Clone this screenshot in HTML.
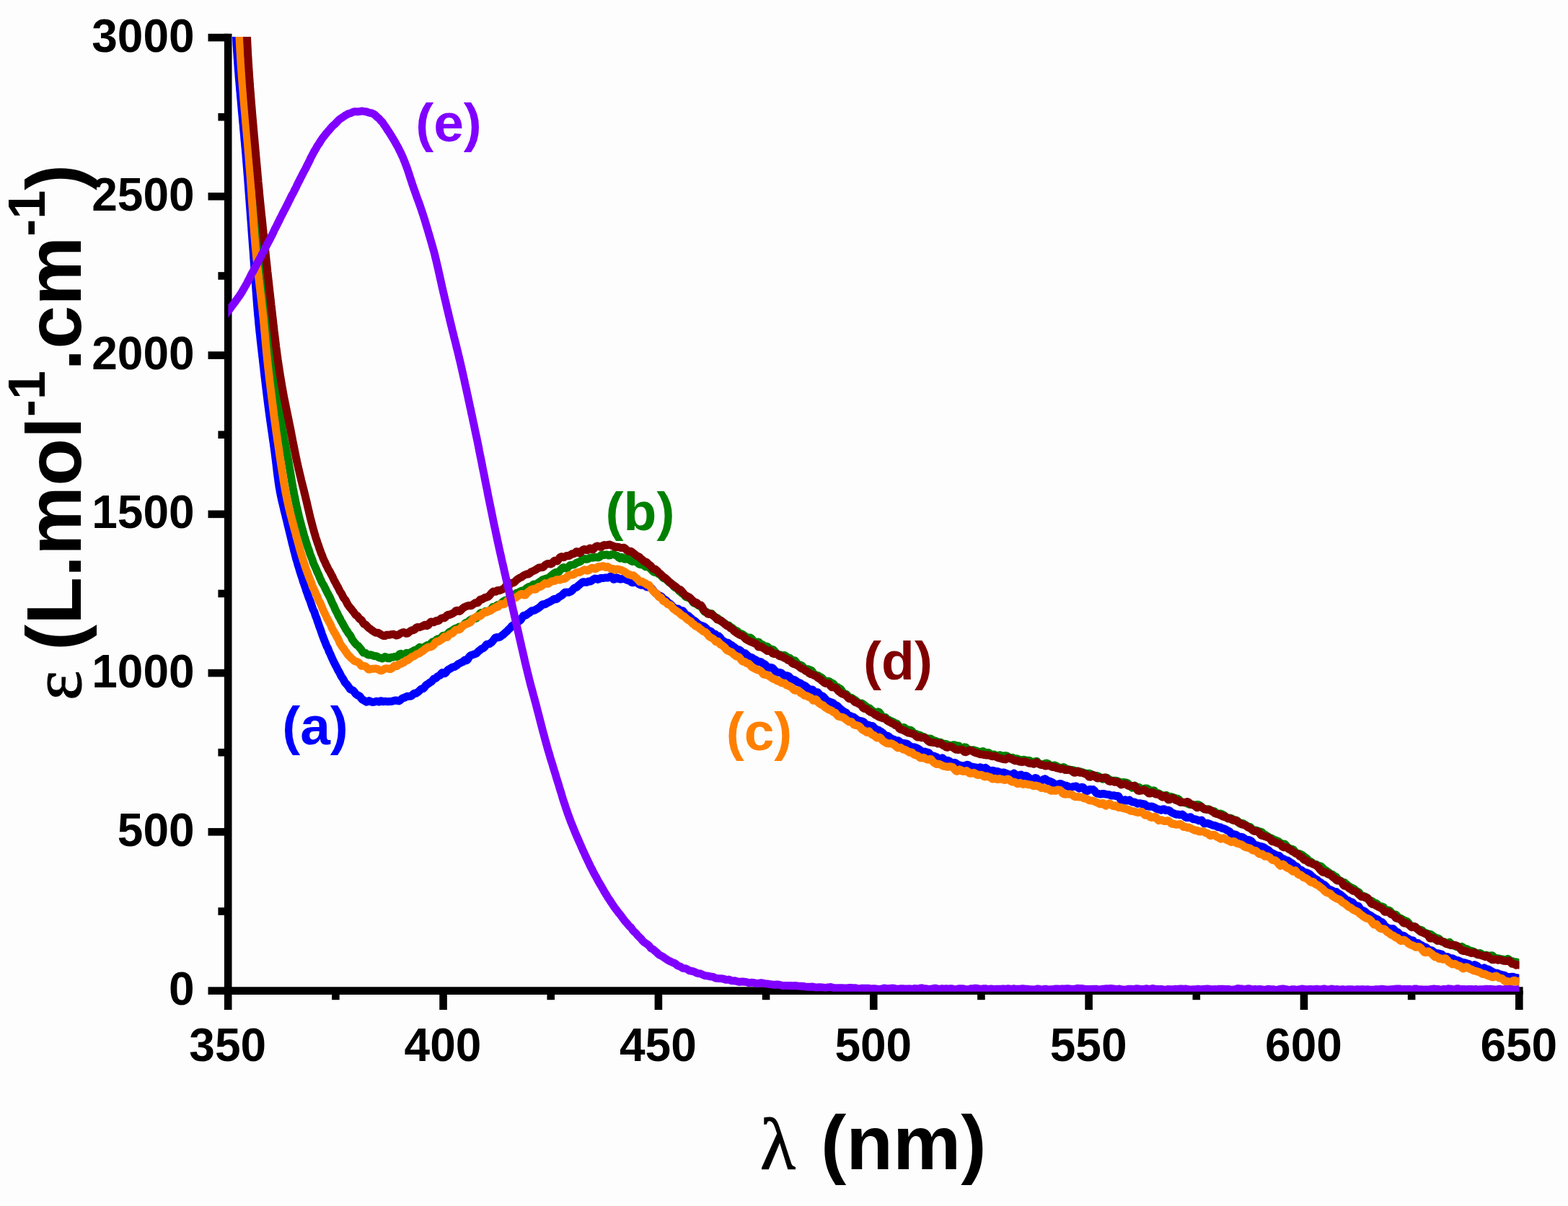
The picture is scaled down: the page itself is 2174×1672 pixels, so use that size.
<!DOCTYPE html>
<html lang="en"><head><meta charset="utf-8"><title>UV-vis absorption spectra</title>
<style>
html,body{margin:0;padding:0;background:#fdfdfd;}
body{width:2174px;height:1672px;overflow:hidden;}
svg{display:block;filter:blur(0.6px);}
text{font-family:"Liberation Sans",Arial,Helvetica,sans-serif;font-weight:bold;fill:#000;}
.tk{font-size:64px;}
.lb{font-size:75px;}
.gr{font-family:"Liberation Serif","DejaVu Serif",serif;font-weight:normal;stroke:#000;stroke-width:1.2px;}
.c{fill:none;stroke-linejoin:round;stroke-linecap:butt;}
</style></head><body>
<svg width="2174" height="1672" viewBox="0 0 2174 1672" role="img" aria-label="Molar absorption coefficient versus wavelength for samples a to e">
<rect width="2174" height="1672" fill="#fdfdfd"/>
<defs><clipPath id="plot"><rect x="316.4" y="51.0" width="1790.0" height="1323.8"/></clipPath></defs>

<g stroke="#000" stroke-width="10.6" fill="none" stroke-linecap="butt">
<path d="M316.2,46.800000000000004 V1378.8999999999999"/>
<path d="M310.9,1373.6 H2111.6000000000004"/>
<path d="M288.5,1373.60 H316.2"/>
<path d="M302.4,1263.47 H316.2"/>
<path d="M288.5,1153.35 H316.2"/>
<path d="M302.4,1043.22 H316.2"/>
<path d="M288.5,933.10 H316.2"/>
<path d="M302.4,822.97 H316.2"/>
<path d="M288.5,712.85 H316.2"/>
<path d="M302.4,602.72 H316.2"/>
<path d="M288.5,492.60 H316.2"/>
<path d="M302.4,382.47 H316.2"/>
<path d="M288.5,272.35 H316.2"/>
<path d="M302.4,162.22 H316.2"/>
<path d="M288.5,52.10 H316.2"/>
<path d="M316.20,1373.6 V1400.0"/>
<path d="M465.38,1373.6 V1386.2"/>
<path d="M614.55,1373.6 V1400.0"/>
<path d="M763.72,1373.6 V1386.2"/>
<path d="M912.90,1373.6 V1400.0"/>
<path d="M1062.08,1373.6 V1386.2"/>
<path d="M1211.25,1373.6 V1400.0"/>
<path d="M1360.42,1373.6 V1386.2"/>
<path d="M1509.60,1373.6 V1400.0"/>
<path d="M1658.78,1373.6 V1386.2"/>
<path d="M1807.95,1373.6 V1400.0"/>
<path d="M1957.13,1373.6 V1386.2"/>
<path d="M2106.30,1373.6 V1400.0"/>
</g>
<g class="tk">
<text x="269.6" y="1393.2" text-anchor="end">0</text>
<text x="269.6" y="1172.9" text-anchor="end">500</text>
<text x="269.6" y="952.7" text-anchor="end">1000</text>
<text x="269.6" y="732.4" text-anchor="end">1500</text>
<text x="269.6" y="512.2" text-anchor="end">2000</text>
<text x="269.6" y="291.9" text-anchor="end">2500</text>
<text x="269.6" y="71.7" text-anchor="end">3000</text>
<text x="315.7" y="1470.5" text-anchor="middle">350</text>
<text x="614.0" y="1470.5" text-anchor="middle">400</text>
<text x="912.4" y="1470.5" text-anchor="middle">450</text>
<text x="1210.8" y="1470.5" text-anchor="middle">500</text>
<text x="1509.1" y="1470.5" text-anchor="middle">550</text>
<text x="1807.5" y="1470.5" text-anchor="middle">600</text>
<text x="2105.8" y="1470.5" text-anchor="middle">650</text>
</g>
<g clip-path="url(#plot)">
<polyline class="c" stroke="#0000ff" stroke-width="11.0" points="326.5,30.0 326.6,32.0 326.7,34.0 326.7,36.0 326.8,38.0 326.9,40.0 327.0,42.0 327.1,44.0 327.2,46.0 327.3,48.0 327.4,50.0 327.5,52.0 327.6,54.0 327.7,56.0 327.8,58.0 327.9,60.0 328.0,61.9 328.1,63.9 328.3,66.0 328.4,68.0 328.5,69.9 328.6,72.0 328.8,74.0 328.9,76.0 329.0,77.9 329.2,79.9 329.3,81.9 329.5,83.9 329.6,85.9 329.7,87.9 329.9,89.9 330.0,91.9 330.2,93.9 330.3,95.8 330.5,97.9 330.7,99.8 330.8,101.8 331.0,103.9 331.1,105.9 331.3,107.9 331.5,109.8 331.6,111.8 331.8,113.8 332.0,115.8 332.1,117.8 332.3,119.8 332.5,121.8 332.6,123.8 332.8,125.8 333.0,127.8 333.2,129.8 333.3,131.7 333.5,133.7 333.7,135.7 333.9,137.7 334.1,139.8 334.2,141.8 334.4,143.8 334.6,145.7 334.8,147.7 335.0,149.7 335.1,151.7 335.3,153.7 335.5,155.7 335.7,157.7 335.9,159.7 336.1,161.7 336.3,163.7 336.4,165.7 336.6,167.6 336.8,169.6 337.0,171.6 337.2,173.6 337.4,175.6 337.5,177.6 337.7,179.5 337.9,181.6 338.1,183.6 338.3,185.6 338.5,187.6 338.7,189.5 338.8,191.5 339.0,193.5 339.2,195.5 339.4,197.5 339.6,199.5 339.7,201.5 339.9,203.5 340.1,205.5 340.3,207.5 340.4,209.5 340.6,211.5 340.8,213.4 341.0,215.4 341.1,217.5 341.3,219.4 341.5,221.4 341.6,223.4 341.8,225.4 342.0,227.4 342.1,229.4 342.3,231.4 342.5,233.4 342.6,235.4 342.8,237.4 342.9,239.4 343.1,241.4 343.3,243.4 343.4,245.3 343.6,247.3 343.7,249.3 343.9,251.3 344.0,253.4 344.2,255.3 344.3,257.3 344.5,259.3 344.6,261.3 344.8,263.3 344.9,265.3 345.1,267.3 345.2,269.3 345.4,271.3 345.5,273.3 345.7,275.3 345.8,277.3 346.0,279.3 346.1,281.3 346.3,283.3 346.4,285.2 346.6,287.3 346.7,289.2 346.9,291.2 347.0,293.2 347.2,295.2 347.3,297.2 347.5,299.2 347.6,301.2 347.8,303.2 347.9,305.2 348.1,307.2 348.2,309.2 348.4,311.2 348.5,313.2 348.7,315.2 348.8,317.2 348.9,319.2 349.1,321.2 349.2,323.2 349.4,325.2 349.5,327.2 349.7,329.1 349.8,331.1 350.0,333.1 350.1,335.2 350.3,337.2 350.4,339.1 350.6,341.1 350.7,343.1 350.9,345.1 351.0,347.1 351.2,349.1 351.3,351.1 351.5,353.1 351.6,355.1 351.7,357.1 351.9,359.1 352.0,361.1 352.2,363.1 352.3,365.1 352.5,367.0 352.6,369.0 352.7,371.1 352.9,373.1 353.0,375.1 353.1,377.0 353.3,379.0 353.4,381.0 353.6,383.0 353.7,385.0 353.9,387.0 354.0,389.0 354.1,391.0 354.3,393.0 354.4,395.0 354.6,397.0 354.7,399.0 354.9,401.0 355.0,403.0 355.2,405.0 355.3,407.0 355.5,409.0 355.6,411.0 355.8,413.0 355.9,415.0 356.1,416.9 356.2,418.9 356.4,420.9 356.5,422.9 356.7,424.9 356.9,426.9 357.0,428.9 357.2,430.9 357.4,432.9 357.5,434.9 357.7,436.8 357.9,438.8 358.1,440.8 358.3,442.8 358.5,444.8 358.6,446.9 358.8,448.8 359.0,450.8 359.2,452.8 359.4,454.8 359.6,456.7 359.8,458.8 360.0,460.8 360.3,462.8 360.5,464.8 360.7,466.8 360.9,468.8 361.1,470.8 361.3,472.7 361.6,474.7 361.8,476.7 362.0,478.7 362.2,480.7 362.5,482.6 362.7,484.6 362.9,486.6 363.2,488.6 363.4,490.6 363.6,492.6 363.8,494.6 364.1,496.5 364.3,498.5 364.5,500.4 364.7,502.4 365.0,504.4 365.2,506.5 365.4,508.5 365.7,510.4 365.9,512.4 366.1,514.4 366.3,516.4 366.6,518.4 366.8,520.4 367.0,522.4 367.3,524.4 367.5,526.3 367.7,528.3 368.0,530.3 368.2,532.2 368.4,534.3 368.7,536.3 368.9,538.3 369.2,540.3 369.4,542.3 369.6,544.2 369.9,546.2 370.1,548.2 370.4,550.1 370.6,552.2 370.9,554.2 371.1,556.2 371.4,558.2 371.6,560.1 371.9,562.1 372.1,564.1 372.4,566.0 372.7,568.1 372.9,570.1 373.2,572.1 373.5,574.0 373.7,575.9 374.0,577.9 374.3,579.9 374.5,581.9 374.8,583.9 375.1,585.9 375.4,587.8 375.7,589.8 375.9,591.8 376.2,593.8 376.5,595.8 376.8,597.8 377.1,599.7 377.4,601.7 377.7,603.6 377.9,605.6 378.2,607.6 378.5,609.6 378.8,611.6 379.1,613.6 379.4,615.5 379.6,617.6 379.9,619.6 380.2,621.5 380.4,623.5 380.7,625.5 381.0,627.5 381.2,629.4 381.5,631.4 381.7,633.4 382.0,635.4 382.2,637.5 382.5,639.4 382.7,641.4 383.0,643.4 383.2,645.4 383.4,647.4 383.7,649.4 383.9,651.4 384.1,653.4 384.4,655.4 384.6,657.4 384.9,659.3 385.1,661.2 385.4,663.2 385.7,665.2 385.9,667.1 386.2,669.1 386.5,671.1 386.8,673.1 387.1,675.1 387.5,677.1 387.8,679.0 388.1,681.0 388.5,683.0 388.9,685.0 389.3,687.0 389.7,688.9 390.1,690.7 390.5,692.7 391.0,694.8 391.4,696.5 391.9,698.2 392.3,700.1 392.8,702.0 393.3,704.0 393.7,706.3 394.2,708.4 394.7,710.3 395.2,712.2 395.7,714.2 396.2,716.1 396.6,718.0 397.1,720.0 397.6,721.9 398.1,723.8 398.6,725.9 399.0,727.9 399.5,729.8 400.0,731.7 400.4,733.5 400.9,735.5 401.4,737.5 401.8,739.4 402.3,741.3 402.8,743.2 403.2,745.2 403.7,747.2 404.2,749.0 404.6,751.0 405.1,753.1 405.6,755.1 406.1,756.9 406.6,758.6 407.1,760.7 407.5,762.8 408.0,764.7 408.6,766.6 409.1,768.6 409.6,770.6 410.1,772.7 410.6,774.7 411.2,776.5 411.7,778.1 412.3,779.9 412.8,782.1 413.4,784.1 414.0,785.8 414.5,787.5 415.1,789.6 415.7,791.7 416.3,793.5 416.9,795.4 417.5,797.2 418.1,799.0 418.8,800.9 419.4,802.9 420.0,805.1 420.6,807.0 421.3,808.7 421.9,810.6 422.6,812.4 423.2,814.3 423.9,816.3 424.5,818.5 425.2,820.4 425.8,821.9 426.5,823.8 427.2,825.9 427.9,827.9 428.5,829.6 429.2,831.2 429.9,832.8 430.6,834.8 431.3,837.1 432.0,839.1 432.7,841.0 433.4,843.2 434.1,845.0 434.8,846.3 435.5,847.6 436.2,849.5 436.9,851.8 437.6,854.1 438.3,855.7 439.0,857.3 439.7,859.4 440.3,861.7 441.0,863.3 441.7,865.2 442.3,867.4 443.0,869.1 443.6,870.8 444.3,872.8 445.0,874.6 445.6,876.5 446.3,878.7 447.0,880.7 447.7,882.4 448.4,884.2 449.1,886.1 449.8,887.9 450.6,889.8 451.3,891.8 452.1,893.8 452.9,895.7 453.6,897.1 454.4,898.4 455.2,900.4 456.0,902.7 456.8,904.5 457.7,906.1 458.5,908.0 459.3,909.9 460.2,911.9 461.0,913.7 461.8,915.5 462.7,917.4 463.6,919.1 464.4,920.8 465.3,922.6 466.2,924.1 467.1,925.8 468.0,927.9 468.9,929.5 469.9,931.1 470.8,932.8 471.8,934.7 472.8,936.9 473.8,938.7 474.9,940.1 476.0,941.8 477.1,943.9 478.2,946.1 479.4,947.4 480.5,948.5 481.7,950.2 483.0,951.7 484.2,953.5 485.6,955.5 486.9,956.3 488.3,956.7 489.7,957.4 491.2,959.1 492.7,961.3 494.2,962.8 495.8,963.9 497.4,964.4 499.1,965.7 500.8,968.2 502.6,970.0 504.3,970.8 506.2,972.0 508.0,973.2 509.9,972.7 511.8,971.6 513.7,972.3 515.7,973.3 517.7,973.4 519.6,973.1 521.6,972.2 523.6,972.7 525.6,973.1 527.6,971.8 529.6,972.0 531.6,972.7 533.6,972.3 535.6,972.6 537.6,972.7 539.6,972.5 541.6,972.6 543.5,972.3 545.5,971.7 547.5,971.2 549.4,970.9 551.4,971.6 553.3,971.9 555.2,970.5 557.1,968.7 559.0,967.6 560.9,967.3 562.7,966.2 564.5,965.3 566.4,965.4 568.2,965.2 569.9,965.0 571.7,963.9 573.4,961.8 575.2,961.1 576.9,961.3 578.6,960.1 580.3,958.8 581.9,957.3 583.6,955.5 585.2,954.8 586.9,954.7 588.5,953.1 590.1,950.5 591.8,949.1 593.4,948.3 595.1,946.9 596.7,945.8 598.3,945.0 600.0,943.0 601.6,941.2 603.3,940.8 605.0,939.8 606.6,937.9 608.3,937.0 610.0,936.3 611.6,934.0 613.3,932.6 615.0,933.2 616.6,933.8 618.3,932.4 620.0,929.9 621.7,928.2 623.4,927.4 625.0,926.7 626.7,925.2 628.4,924.7 630.1,924.5 631.8,923.5 633.5,922.4 635.2,920.7 636.9,919.8 638.5,919.2 640.2,918.1 641.9,917.5 643.6,915.6 645.3,914.7 647.0,915.7 648.7,914.0 650.4,910.8 652.1,909.0 653.8,908.2 655.4,907.7 657.1,907.1 658.8,906.7 660.4,905.9 662.1,904.3 663.7,902.7 665.4,901.4 667.0,899.9 668.7,899.0 670.3,898.6 671.9,897.1 673.5,894.7 675.2,893.1 676.8,892.9 678.5,892.6 680.1,891.7 681.7,890.5 683.4,888.5 685.1,886.2 686.7,884.2 688.4,883.6 690.0,883.7 691.7,883.7 693.3,883.1 695.0,881.7 696.6,880.7 698.2,879.5 699.8,877.8 701.4,876.4 703.0,875.1 704.6,873.3 706.2,871.8 707.7,870.3 709.2,868.5 710.8,867.1 712.3,866.3 713.8,865.6 715.3,863.9 716.8,862.5 718.3,862.2 719.8,861.2 721.3,860.0 722.8,858.3 724.4,855.6 725.9,853.4 727.5,853.2 729.1,853.0 730.7,851.7 732.4,850.6 734.1,849.5 735.7,847.9 737.4,846.7 739.2,846.6 740.9,846.2 742.6,845.2 744.4,844.3 746.2,843.2 747.9,842.1 749.7,840.6 751.5,838.4 753.3,837.7 755.1,838.0 756.9,837.2 758.7,835.8 760.4,835.1 762.2,834.4 764.0,833.3 765.8,832.3 767.6,830.9 769.4,830.4 771.2,830.8 773.0,829.7 774.8,827.9 776.5,826.8 778.3,825.9 780.0,824.5 781.8,822.5 783.5,821.3 785.2,821.1 786.9,821.2 788.6,821.2 790.3,820.6 792.0,819.8 793.7,818.2 795.4,815.9 797.1,814.9 798.8,814.6 800.6,813.3 802.4,811.4 804.1,810.0 805.9,808.6 807.7,807.0 809.6,806.8 811.4,807.3 813.3,807.3 815.2,806.3 817.1,806.0 819.1,805.9 821.0,804.5 822.9,803.1 824.9,802.1 826.9,802.5 828.8,803.4 830.8,802.7 832.7,801.4 834.7,801.4 836.6,801.5 838.6,801.0 840.6,800.9 842.5,801.1 844.5,800.4 846.5,799.0 848.5,799.9 850.5,803.2 852.4,803.0 854.4,800.7 856.4,801.3 858.3,802.7 860.3,803.1 862.2,802.6 864.2,802.2 866.1,802.7 868.1,803.6 870.0,804.4 872.0,804.9 873.9,805.9 875.9,807.6 877.8,807.8 879.8,806.6 881.7,806.6 883.7,808.0 885.6,809.7 887.5,810.7 889.4,811.3 891.2,811.2 893.0,811.1 894.8,812.0 896.6,813.8 898.3,814.0 900.0,813.8 901.7,814.4 903.3,815.4 904.9,817.6 906.5,819.7 908.1,821.4 909.7,822.9 911.2,823.7 912.8,825.0 914.3,826.1 915.8,826.4 917.4,827.3 918.9,829.4 920.5,830.9 922.1,831.5 923.7,832.5 925.3,834.3 927.0,835.8 928.6,836.8 930.3,838.2 931.9,840.0 933.6,841.5 935.2,843.3 936.9,844.8 938.5,844.2 940.2,843.9 941.8,845.2 943.4,846.7 945.1,846.9 946.7,846.8 948.3,848.7 950.0,851.6 951.6,853.0 953.2,853.0 954.9,854.1 956.5,855.7 958.1,857.0 959.8,858.7 961.4,860.0 963.1,860.8 964.7,862.1 966.4,863.9 968.0,865.2 969.7,866.1 971.3,866.9 973.0,867.6 974.6,868.1 976.3,868.7 978.0,870.1 979.6,871.7 981.3,873.6 983.0,874.9 984.6,874.8 986.3,875.9 987.9,878.7 989.6,879.1 991.3,878.9 992.9,880.8 994.6,881.7 996.2,881.7 997.9,883.3 999.6,885.6 1001.2,887.5 1002.9,888.7 1004.5,889.6 1006.2,890.7 1007.8,891.1 1009.5,891.3 1011.1,892.6 1012.8,893.9 1014.5,894.6 1016.1,896.1 1017.8,897.1 1019.5,898.4 1021.2,900.6 1022.9,901.3 1024.6,900.7 1026.3,901.7 1028.1,903.5 1029.8,904.9 1031.5,905.6 1033.3,905.8 1035.0,907.5 1036.8,909.4 1038.6,910.4 1040.3,911.2 1042.1,911.6 1043.8,912.7 1045.6,913.7 1047.4,914.7 1049.2,915.8 1050.9,917.2 1052.7,917.7 1054.5,917.4 1056.2,918.5 1058.0,919.9 1059.7,920.6 1061.5,922.1 1063.3,924.2 1065.0,925.4 1066.8,925.9 1068.6,925.5 1070.4,925.7 1072.1,927.1 1073.9,929.1 1075.7,931.2 1077.4,932.0 1079.2,932.2 1081.0,932.4 1082.8,932.8 1084.6,934.1 1086.3,935.6 1088.1,936.7 1089.9,936.8 1091.7,936.8 1093.4,937.5 1095.2,939.3 1097.0,941.1 1098.8,942.0 1100.5,942.3 1102.3,942.9 1104.1,944.4 1105.8,945.7 1107.6,946.4 1109.4,947.1 1111.1,948.3 1112.9,949.5 1114.7,950.0 1116.4,951.0 1118.2,952.5 1119.9,954.1 1121.6,955.5 1123.4,956.1 1125.1,956.0 1126.8,956.2 1128.6,958.6 1130.3,960.5 1132.0,959.8 1133.7,959.8 1135.4,961.9 1137.1,963.9 1138.8,964.7 1140.4,965.1 1142.1,966.5 1143.8,968.4 1145.4,970.3 1147.1,972.0 1148.7,972.5 1150.4,972.8 1152.0,973.6 1153.6,974.0 1155.2,974.8 1156.8,976.7 1158.5,977.8 1160.1,978.1 1161.7,979.3 1163.3,981.1 1164.9,982.6 1166.5,983.8 1168.2,985.2 1169.8,986.6 1171.5,987.3 1173.1,988.0 1174.8,990.4 1176.5,992.0 1178.2,992.2 1180.0,993.1 1181.7,993.8 1183.4,994.1 1185.2,995.4 1187.0,997.0 1188.7,998.1 1190.5,999.1 1192.3,999.5 1194.1,999.8 1195.8,1000.2 1197.6,1001.1 1199.4,1003.0 1201.1,1005.0 1202.9,1005.2 1204.6,1005.3 1206.3,1006.6 1208.1,1006.6 1209.8,1006.6 1211.5,1008.4 1213.3,1010.0 1215.0,1011.3 1216.7,1011.8 1218.5,1012.5 1220.2,1014.1 1221.9,1014.6 1223.7,1015.9 1225.5,1017.9 1227.2,1019.4 1229.0,1020.3 1230.8,1020.3 1232.6,1021.4 1234.4,1023.1 1236.2,1024.0 1238.0,1024.8 1239.8,1025.5 1241.7,1026.6 1243.5,1027.2 1245.3,1026.7 1247.2,1028.0 1249.0,1029.6 1250.9,1030.2 1252.7,1030.4 1254.6,1030.9 1256.4,1031.0 1258.3,1031.7 1260.1,1033.3 1262.0,1034.5 1263.8,1035.9 1265.6,1036.3 1267.5,1035.8 1269.3,1036.5 1271.2,1037.2 1273.0,1038.0 1274.9,1039.3 1276.7,1040.7 1278.6,1042.5 1280.4,1042.8 1282.3,1042.1 1284.1,1042.8 1286.0,1043.1 1287.8,1043.7 1289.7,1046.0 1291.5,1047.8 1293.4,1048.0 1295.2,1048.2 1297.1,1049.1 1299.0,1049.9 1300.8,1051.4 1302.7,1052.7 1304.6,1051.7 1306.4,1050.8 1308.3,1052.2 1310.2,1054.5 1312.1,1055.0 1313.9,1054.3 1315.8,1054.9 1317.7,1056.4 1319.6,1057.6 1321.5,1057.9 1323.5,1057.3 1325.4,1058.1 1327.3,1059.9 1329.2,1060.5 1331.2,1061.1 1333.1,1061.7 1335.1,1061.7 1337.0,1061.7 1339.0,1061.1 1340.9,1060.2 1342.9,1060.8 1344.8,1062.4 1346.8,1062.9 1348.8,1063.2 1350.7,1063.7 1352.7,1063.9 1354.7,1064.6 1356.6,1064.9 1358.6,1063.8 1360.6,1064.1 1362.6,1066.7 1364.5,1066.4 1366.5,1064.5 1368.5,1065.9 1370.4,1067.7 1372.4,1068.3 1374.4,1068.4 1376.3,1068.2 1378.3,1068.8 1380.3,1069.4 1382.3,1069.5 1384.2,1069.9 1386.2,1071.0 1388.2,1071.6 1390.1,1071.0 1392.1,1071.1 1394.1,1071.9 1396.0,1072.5 1398.0,1073.3 1400.0,1074.5 1401.9,1074.9 1403.9,1073.3 1405.8,1072.1 1407.8,1073.7 1409.8,1075.2 1411.7,1075.3 1413.7,1074.5 1415.7,1074.1 1417.6,1075.8 1419.6,1076.2 1421.5,1075.5 1423.5,1075.9 1425.5,1077.3 1427.4,1079.0 1429.4,1080.4 1431.3,1081.3 1433.3,1080.4 1435.3,1078.5 1437.2,1079.1 1439.2,1082.0 1441.2,1083.1 1443.1,1082.4 1445.1,1081.8 1447.0,1080.4 1449.0,1079.8 1451.0,1081.1 1452.9,1082.5 1454.9,1083.2 1456.9,1083.7 1458.8,1084.5 1460.8,1086.2 1462.8,1087.2 1464.7,1087.5 1466.7,1087.9 1468.6,1086.8 1470.6,1086.5 1472.6,1087.4 1474.5,1088.3 1476.5,1088.9 1478.4,1089.2 1480.4,1090.1 1482.4,1091.4 1484.3,1092.1 1486.3,1091.0 1488.2,1090.4 1490.2,1090.2 1492.2,1089.9 1494.1,1091.7 1496.1,1093.1 1498.0,1092.4 1500.0,1091.2 1501.9,1091.8 1503.9,1094.5 1505.8,1096.6 1507.8,1096.6 1509.7,1094.9 1511.7,1094.4 1513.6,1094.8 1515.6,1094.6 1517.5,1096.2 1519.4,1099.0 1521.4,1100.2 1523.3,1100.4 1525.3,1101.0 1527.2,1100.9 1529.2,1100.4 1531.1,1100.7 1533.0,1101.1 1535.0,1101.4 1536.9,1101.6 1538.8,1102.1 1540.8,1103.1 1542.7,1103.1 1544.6,1102.8 1546.6,1103.4 1548.5,1103.4 1550.5,1103.7 1552.4,1106.4 1554.3,1109.4 1556.2,1110.8 1558.2,1109.9 1560.1,1108.8 1562.0,1110.0 1564.0,1110.0 1565.9,1109.0 1567.8,1110.6 1569.8,1111.9 1571.7,1112.0 1573.6,1112.3 1575.6,1113.4 1577.5,1114.3 1579.4,1113.8 1581.3,1113.7 1583.3,1114.7 1585.2,1114.6 1587.1,1114.9 1589.1,1116.8 1591.0,1117.8 1592.9,1118.0 1594.8,1118.2 1596.8,1118.1 1598.7,1118.6 1600.6,1119.5 1602.5,1120.7 1604.5,1121.8 1606.4,1121.9 1608.3,1122.6 1610.2,1123.3 1612.2,1121.9 1614.1,1121.7 1616.0,1123.5 1617.9,1123.6 1619.8,1123.2 1621.8,1124.2 1623.7,1125.9 1625.6,1127.1 1627.5,1127.7 1629.4,1128.7 1631.3,1129.2 1633.3,1129.0 1635.2,1129.7 1637.1,1129.5 1639.0,1129.0 1640.9,1130.4 1642.9,1132.4 1644.8,1133.5 1646.7,1133.6 1648.6,1133.1 1650.6,1132.8 1652.5,1134.4 1654.4,1135.7 1656.3,1135.7 1658.2,1136.1 1660.2,1136.9 1662.1,1137.8 1664.0,1137.4 1665.9,1137.1 1667.8,1139.4 1669.7,1141.8 1671.6,1141.7 1673.5,1141.3 1675.4,1141.6 1677.3,1142.5 1679.2,1143.2 1681.1,1144.0 1683.0,1144.6 1684.8,1144.6 1686.7,1145.5 1688.6,1146.7 1690.4,1146.7 1692.3,1147.0 1694.1,1148.2 1696.0,1148.7 1697.8,1149.1 1699.7,1150.1 1701.5,1151.2 1703.3,1152.0 1705.1,1153.2 1706.9,1155.4 1708.8,1156.7 1710.6,1156.6 1712.4,1157.0 1714.2,1157.7 1716.0,1159.0 1717.8,1160.4 1719.6,1160.5 1721.4,1160.3 1723.2,1161.0 1725.0,1162.2 1726.8,1164.0 1728.6,1164.9 1730.4,1164.5 1732.2,1164.8 1734.0,1165.6 1735.8,1167.1 1737.6,1169.5 1739.4,1171.3 1741.2,1171.9 1743.0,1172.0 1744.8,1172.9 1746.6,1173.4 1748.4,1173.5 1750.2,1174.0 1752.0,1174.6 1753.8,1175.8 1755.5,1177.2 1757.3,1177.9 1759.1,1179.1 1760.9,1180.9 1762.7,1182.2 1764.5,1183.0 1766.2,1184.0 1768.0,1184.9 1769.8,1185.7 1771.5,1186.2 1773.3,1186.3 1775.0,1188.0 1776.8,1190.3 1778.5,1190.6 1780.3,1191.1 1782.0,1192.8 1783.8,1193.3 1785.5,1193.0 1787.2,1194.1 1788.9,1195.8 1790.6,1196.4 1792.3,1197.6 1794.1,1199.6 1795.8,1200.6 1797.5,1201.2 1799.1,1202.6 1800.8,1205.0 1802.5,1206.4 1804.2,1206.2 1805.9,1207.6 1807.6,1209.7 1809.3,1210.1 1811.0,1209.7 1812.6,1210.3 1814.3,1211.2 1816.0,1212.1 1817.7,1213.6 1819.3,1215.2 1821.0,1216.5 1822.7,1218.0 1824.4,1218.9 1826.1,1219.8 1827.7,1221.5 1829.4,1222.6 1831.1,1223.7 1832.8,1225.2 1834.4,1226.0 1836.1,1226.8 1837.8,1228.2 1839.5,1230.1 1841.1,1232.2 1842.8,1233.0 1844.5,1233.5 1846.2,1234.3 1847.8,1235.0 1849.5,1236.1 1851.2,1236.4 1852.8,1236.5 1854.5,1237.9 1856.2,1239.1 1857.8,1239.8 1859.5,1241.1 1861.2,1242.6 1862.8,1243.9 1864.5,1245.4 1866.2,1247.5 1867.8,1248.0 1869.5,1248.4 1871.2,1250.2 1872.8,1250.8 1874.5,1250.7 1876.2,1252.0 1877.8,1254.5 1879.5,1256.1 1881.2,1255.9 1882.8,1255.9 1884.5,1257.7 1886.2,1260.7 1887.8,1262.2 1889.5,1262.2 1891.1,1263.1 1892.8,1264.1 1894.4,1265.4 1896.1,1267.0 1897.8,1268.1 1899.4,1268.8 1901.1,1269.8 1902.7,1271.1 1904.4,1272.0 1906.0,1273.0 1907.7,1273.9 1909.4,1274.3 1911.0,1275.6 1912.7,1277.2 1914.4,1278.1 1916.0,1278.4 1917.7,1280.1 1919.4,1283.0 1921.1,1284.6 1922.8,1285.7 1924.4,1286.8 1926.1,1287.0 1927.9,1287.4 1929.6,1287.8 1931.3,1287.5 1933.0,1288.9 1934.7,1291.4 1936.4,1292.0 1938.2,1292.5 1939.9,1294.6 1941.6,1296.5 1943.4,1297.1 1945.1,1297.1 1946.9,1297.6 1948.6,1299.1 1950.4,1300.4 1952.1,1301.2 1953.9,1302.5 1955.6,1303.7 1957.4,1303.6 1959.2,1303.9 1960.9,1306.6 1962.7,1308.5 1964.5,1307.6 1966.3,1307.6 1968.0,1309.4 1969.8,1310.0 1971.6,1310.9 1973.4,1312.3 1975.2,1312.8 1977.0,1313.5 1978.8,1314.8 1980.6,1316.6 1982.4,1317.5 1984.3,1317.4 1986.1,1318.4 1987.9,1319.8 1989.8,1321.0 1991.6,1321.8 1993.4,1321.8 1995.3,1322.1 1997.1,1322.5 1999.0,1323.0 2000.9,1324.8 2002.7,1326.6 2004.6,1326.9 2006.5,1326.4 2008.4,1327.2 2010.3,1328.6 2012.1,1328.7 2014.0,1328.8 2015.9,1329.7 2017.8,1330.9 2019.7,1331.5 2021.6,1331.6 2023.5,1332.3 2025.4,1333.5 2027.3,1334.2 2029.2,1334.4 2031.1,1334.8 2033.0,1335.4 2034.9,1336.0 2036.8,1336.5 2038.7,1338.2 2040.6,1339.8 2042.5,1338.5 2044.4,1337.5 2046.3,1338.3 2048.2,1339.5 2050.1,1341.4 2052.0,1343.7 2053.9,1344.5 2055.8,1342.8 2057.7,1341.7 2059.6,1342.9 2061.5,1343.6 2063.4,1343.9 2065.4,1345.0 2067.3,1346.2 2069.2,1347.1 2071.1,1348.3 2073.0,1348.9 2074.9,1348.9 2076.9,1349.7 2078.8,1350.6 2080.7,1350.9 2082.7,1351.6 2084.6,1351.9 2086.5,1352.5 2088.5,1353.8 2090.4,1354.6 2092.4,1354.4 2094.3,1354.4 2096.3,1354.2 2098.2,1354.3 2100.2,1355.2 2102.1,1355.4 2104.1,1355.8 2106.1,1356.4 2108.0,1356.8 2110.0,1357.1"/>
<polyline class="c" stroke="#008000" stroke-width="11.0" points="337.3,30.0 337.4,32.0 337.4,34.0 337.5,36.0 337.5,38.0 337.6,40.0 337.7,42.0 337.7,44.0 337.8,46.0 337.9,48.0 338.0,50.0 338.0,52.0 338.1,54.0 338.2,56.0 338.3,58.0 338.4,60.0 338.5,62.0 338.6,64.0 338.7,66.0 338.8,68.0 338.9,70.0 339.0,72.0 339.1,74.0 339.2,76.0 339.3,78.0 339.5,80.0 339.6,81.9 339.7,83.9 339.8,85.9 339.9,87.9 340.1,90.0 340.2,92.0 340.3,93.9 340.5,95.9 340.6,98.0 340.7,100.0 340.9,101.9 341.0,103.9 341.1,105.9 341.3,107.9 341.4,109.9 341.6,111.9 341.7,113.9 341.9,115.9 342.0,117.9 342.2,119.9 342.3,121.9 342.5,123.9 342.6,125.9 342.8,127.9 342.9,129.9 343.1,131.9 343.2,133.8 343.4,135.9 343.5,137.9 343.7,139.9 343.9,141.8 344.0,143.8 344.2,145.8 344.4,147.8 344.5,149.8 344.7,151.8 344.8,153.8 345.0,155.8 345.2,157.8 345.3,159.8 345.5,161.8 345.7,163.7 345.8,165.8 346.0,167.8 346.2,169.8 346.3,171.8 346.5,173.8 346.7,175.7 346.9,177.7 347.0,179.7 347.2,181.7 347.4,183.7 347.5,185.7 347.7,187.7 347.9,189.7 348.0,191.7 348.2,193.7 348.4,195.7 348.5,197.7 348.7,199.7 348.9,201.7 349.1,203.7 349.2,205.7 349.4,207.7 349.6,209.7 349.7,211.7 349.9,213.7 350.0,215.7 350.2,217.6 350.4,219.6 350.5,221.6 350.7,223.6 350.9,225.6 351.0,227.6 351.2,229.6 351.3,231.6 351.5,233.6 351.7,235.6 351.8,237.6 352.0,239.7 352.1,241.6 352.3,243.6 352.4,245.6 352.6,247.5 352.7,249.5 352.9,251.5 353.0,253.5 353.2,255.5 353.3,257.5 353.5,259.5 353.7,261.5 353.8,263.5 354.0,265.5 354.1,267.5 354.3,269.5 354.4,271.5 354.6,273.5 354.7,275.5 354.9,277.5 355.0,279.5 355.2,281.5 355.3,283.5 355.5,285.5 355.7,287.4 355.8,289.4 356.0,291.4 356.1,293.4 356.3,295.5 356.4,297.5 356.6,299.4 356.8,301.4 356.9,303.4 357.1,305.4 357.2,307.4 357.4,309.4 357.6,311.4 357.7,313.3 357.9,315.4 358.1,317.5 358.2,319.5 358.4,321.4 358.6,323.4 358.7,325.4 358.9,327.4 359.1,329.4 359.2,331.4 359.4,333.3 359.6,335.3 359.8,337.3 359.9,339.4 360.1,341.3 360.3,343.3 360.5,345.3 360.7,347.3 360.8,349.3 361.0,351.3 361.2,353.3 361.4,355.2 361.6,357.3 361.8,359.3 361.9,361.3 362.1,363.3 362.3,365.4 362.5,367.3 362.7,369.2 362.9,371.2 363.1,373.2 363.3,375.2 363.5,377.2 363.7,379.1 363.9,381.2 364.1,383.1 364.2,385.1 364.4,387.2 364.6,389.2 364.8,391.1 365.0,393.1 365.2,395.1 365.4,397.1 365.7,399.1 365.9,401.0 366.1,403.0 366.3,405.1 366.5,407.1 366.7,409.1 366.9,411.0 367.1,413.0 367.3,414.9 367.5,417.0 367.7,419.0 367.9,421.0 368.1,423.0 368.4,425.0 368.6,426.9 368.8,428.9 369.0,430.9 369.2,432.9 369.4,435.0 369.7,436.9 369.9,438.9 370.1,440.9 370.3,442.9 370.5,444.8 370.8,446.8 371.0,448.8 371.2,450.8 371.4,452.8 371.7,454.7 371.9,456.7 372.1,458.8 372.3,460.7 372.6,462.8 372.8,464.7 373.0,466.7 373.3,468.7 373.5,470.8 373.8,472.7 374.0,474.6 374.3,476.6 374.5,478.6 374.8,480.6 375.0,482.7 375.3,484.7 375.5,486.6 375.8,488.6 376.1,490.6 376.4,492.5 376.6,494.4 376.9,496.4 377.2,498.3 377.5,500.3 377.8,502.4 378.1,504.3 378.4,506.3 378.7,508.2 379.0,510.2 379.4,512.2 379.7,514.3 380.0,516.2 380.3,518.2 380.6,520.2 380.9,522.2 381.3,524.2 381.6,526.1 381.9,528.1 382.2,530.1 382.5,532.1 382.8,534.0 383.1,535.9 383.4,537.9 383.7,540.0 384.0,542.0 384.3,544.0 384.6,546.0 384.9,548.0 385.2,549.9 385.5,551.8 385.7,553.8 386.0,555.8 386.3,557.7 386.6,559.7 386.9,561.7 387.1,563.7 387.4,565.6 387.7,567.6 388.0,569.6 388.2,571.6 388.5,573.6 388.8,575.6 389.1,577.6 389.4,579.7 389.7,581.7 390.0,583.6 390.3,585.6 390.6,587.5 390.9,589.4 391.3,591.3 391.6,593.4 391.9,595.4 392.2,597.4 392.6,599.3 392.9,601.2 393.3,603.2 393.6,605.3 394.0,607.3 394.3,609.3 394.7,611.2 395.0,613.1 395.4,615.0 395.8,617.0 396.1,618.9 396.5,620.9 396.9,622.9 397.2,624.9 397.6,627.0 398.0,628.9 398.3,630.8 398.7,632.7 399.1,634.8 399.4,636.7 399.8,638.7 400.1,640.7 400.4,642.7 400.8,644.6 401.1,646.6 401.5,648.5 401.8,650.4 402.1,652.5 402.5,654.4 402.8,656.4 403.1,658.4 403.4,660.4 403.8,662.4 404.1,664.3 404.4,666.4 404.8,668.5 405.1,670.4 405.4,672.2 405.8,674.2 406.1,676.3 406.5,678.3 406.9,680.2 407.2,682.1 407.6,684.2 408.0,686.1 408.4,687.9 408.8,689.9 409.2,692.0 409.6,694.0 410.0,695.9 410.4,697.9 410.8,699.8 411.2,701.8 411.7,703.7 412.1,705.6 412.6,707.6 413.0,709.6 413.5,711.6 414.0,713.6 414.4,715.5 414.9,717.5 415.4,719.5 415.9,721.4 416.4,723.2 416.9,725.0 417.4,727.1 417.9,729.2 418.4,731.1 419.0,732.9 419.5,734.6 420.0,736.4 420.6,738.4 421.1,740.5 421.7,742.8 422.3,744.6 422.9,746.1 423.4,748.0 424.0,750.0 424.6,752.0 425.2,754.0 425.9,756.1 426.5,758.0 427.1,759.6 427.8,761.3 428.4,763.4 429.1,765.4 429.7,767.4 430.4,769.2 431.1,771.1 431.8,773.0 432.5,774.7 433.2,776.5 433.9,778.8 434.6,781.0 435.4,782.6 436.1,784.2 436.9,786.0 437.7,787.7 438.5,789.3 439.3,791.5 440.1,793.6 440.9,795.0 441.7,796.6 442.6,798.9 443.4,801.1 444.3,802.9 445.2,804.8 446.0,806.9 446.9,808.5 447.8,809.9 448.7,811.3 449.6,813.0 450.5,814.9 451.4,816.7 452.3,818.5 453.2,820.5 454.1,822.2 455.0,823.8 455.9,825.5 456.7,826.8 457.6,828.6 458.5,830.8 459.3,832.9 460.2,834.8 461.0,836.7 461.9,838.4 462.7,840.0 463.6,841.9 464.4,843.9 465.2,845.7 466.1,847.4 466.9,848.9 467.8,850.6 468.7,852.7 469.6,854.7 470.5,856.0 471.4,857.4 472.3,859.6 473.3,861.6 474.3,863.0 475.3,864.7 476.3,866.7 477.3,868.4 478.4,870.4 479.4,872.4 480.5,873.8 481.6,875.4 482.6,877.3 483.7,878.7 484.8,879.9 485.9,881.4 487.0,883.6 488.1,886.1 489.2,887.7 490.4,889.3 491.5,890.8 492.7,892.0 494.0,893.6 495.3,894.6 496.6,895.4 498.0,897.2 499.4,898.8 500.8,900.5 502.3,903.0 503.9,904.9 505.5,905.0 507.2,905.5 508.9,907.0 510.7,907.9 512.5,908.0 514.3,907.8 516.2,908.5 518.1,909.4 520.0,909.5 522.0,909.7 523.9,910.8 525.9,911.8 527.9,912.2 529.9,913.1 531.9,912.2 533.8,910.5 535.8,911.0 537.8,912.7 539.8,912.8 541.8,911.5 543.8,911.2 545.8,910.9 547.8,910.4 549.8,910.6 551.8,909.8 553.7,907.1 555.7,906.2 557.7,907.7 559.6,908.4 561.5,907.3 563.4,905.3 565.3,905.4 567.2,906.0 569.1,904.6 570.9,903.6 572.8,902.8 574.6,901.5 576.4,901.1 578.3,900.7 580.1,898.7 581.9,897.3 583.7,897.8 585.5,898.4 587.3,897.7 589.1,896.5 590.9,895.3 592.6,894.4 594.4,894.2 596.2,893.7 598.0,891.5 599.8,889.8 601.6,889.9 603.4,888.7 605.1,886.8 606.9,885.8 608.7,885.8 610.4,886.0 612.2,883.7 613.9,881.4 615.7,881.1 617.4,881.0 619.2,880.7 620.9,878.9 622.6,876.5 624.4,875.5 626.1,874.7 627.8,873.7 629.5,872.4 631.3,871.3 633.0,871.0 634.7,870.0 636.4,869.1 638.1,869.8 639.9,869.3 641.6,867.7 643.3,866.1 645.0,864.1 646.7,863.1 648.4,862.4 650.2,861.0 651.9,859.6 653.6,858.7 655.3,858.0 657.1,857.3 658.8,857.6 660.5,857.2 662.3,854.9 664.0,852.5 665.7,850.2 667.5,849.5 669.2,850.2 671.0,848.9 672.7,847.6 674.5,847.8 676.2,847.6 678.0,847.1 679.8,846.4 681.5,843.8 683.3,841.6 685.1,841.5 686.8,840.9 688.6,839.5 690.4,838.4 692.1,838.3 693.8,838.1 695.6,835.9 697.3,834.1 699.0,833.2 700.7,832.1 702.4,831.9 704.1,831.3 705.8,829.4 707.5,828.0 709.2,827.9 710.9,827.9 712.6,826.2 714.3,823.5 716.0,822.3 717.7,822.1 719.4,821.2 721.1,820.0 722.8,819.3 724.5,818.8 726.3,818.4 728.0,817.2 729.8,815.7 731.6,814.4 733.3,813.4 735.1,813.3 736.9,812.4 738.7,810.9 740.5,809.9 742.3,809.9 744.1,810.0 745.9,808.3 747.7,807.0 749.5,805.9 751.3,804.4 753.1,803.5 754.9,802.9 756.7,802.4 758.5,801.9 760.2,801.4 762.0,800.3 763.8,798.4 765.6,796.9 767.4,795.7 769.1,794.2 770.9,793.4 772.7,793.7 774.4,793.1 776.2,791.2 778.0,789.1 779.7,787.4 781.5,786.6 783.3,787.5 785.0,788.1 786.8,787.2 788.6,785.3 790.4,783.7 792.2,783.3 794.0,783.1 795.8,782.8 797.6,781.8 799.4,780.3 801.2,779.5 803.1,779.3 804.9,778.3 806.8,776.1 808.6,774.1 810.5,774.4 812.4,775.4 814.3,775.2 816.2,774.4 818.1,773.3 820.0,772.9 822.0,773.2 823.9,772.9 825.9,772.5 827.9,772.8 829.8,773.1 831.8,771.7 833.8,769.2 835.8,768.9 837.8,769.5 839.8,768.9 841.9,769.0 843.9,770.1 845.9,769.9 847.9,768.8 849.9,768.1 851.9,769.0 853.8,770.0 855.8,770.6 857.8,773.0 859.7,774.1 861.7,772.4 863.6,772.6 865.5,775.0 867.4,775.2 869.3,774.1 871.2,774.4 873.1,776.2 875.0,777.8 876.9,778.4 878.8,777.9 880.6,778.2 882.5,779.2 884.3,780.5 886.2,782.3 888.1,782.8 889.9,782.5 891.7,783.2 893.6,784.6 895.4,785.8 897.2,785.9 898.9,786.0 900.7,787.2 902.5,789.1 904.2,791.0 905.9,792.7 907.6,793.5 909.3,793.6 910.9,794.1 912.6,795.4 914.2,796.3 915.8,797.3 917.4,799.0 918.9,800.8 920.5,801.8 922.1,801.8 923.6,802.7 925.2,804.7 926.7,806.3 928.2,807.7 929.8,808.4 931.3,809.0 932.9,810.9 934.4,813.4 935.9,814.5 937.5,815.1 939.0,816.3 940.5,817.9 942.1,819.8 943.6,820.9 945.2,822.3 946.7,823.4 948.3,824.3 949.8,826.5 951.4,827.9 952.9,827.9 954.5,828.8 956.0,829.3 957.6,830.0 959.1,832.2 960.7,834.8 962.3,836.3 963.8,836.7 965.4,837.3 967.0,838.5 968.6,839.7 970.3,840.2 971.9,840.9 973.5,843.0 975.2,845.8 976.8,848.0 978.5,848.6 980.1,848.7 981.8,849.7 983.5,850.7 985.2,850.6 986.9,850.8 988.5,852.6 990.2,854.6 991.9,855.8 993.6,856.3 995.3,857.2 997.0,858.8 998.7,860.5 1000.4,861.8 1002.1,862.7 1003.7,863.5 1005.4,864.5 1007.1,866.0 1008.8,866.7 1010.5,866.9 1012.1,868.4 1013.8,869.8 1015.5,870.8 1017.2,872.4 1018.9,873.6 1020.6,874.3 1022.3,875.1 1024.0,876.7 1025.7,878.1 1027.4,878.5 1029.1,879.1 1030.9,880.3 1032.6,881.7 1034.4,882.9 1036.1,883.9 1037.9,884.2 1039.6,883.9 1041.4,884.7 1043.2,886.6 1044.9,889.3 1046.7,891.5 1048.5,891.4 1050.3,890.0 1052.1,890.2 1053.9,892.3 1055.7,893.4 1057.5,893.9 1059.3,895.6 1061.1,896.5 1062.9,896.1 1064.6,896.8 1066.4,899.0 1068.2,900.2 1070.0,900.2 1071.8,900.6 1073.6,902.3 1075.4,904.4 1077.2,906.0 1079.0,907.4 1080.8,907.8 1082.6,908.0 1084.4,908.8 1086.2,908.7 1087.9,908.4 1089.7,909.7 1091.5,911.2 1093.3,911.7 1095.0,912.2 1096.8,913.9 1098.5,915.7 1100.3,915.6 1102.0,915.7 1103.7,917.6 1105.4,920.2 1107.1,921.4 1108.9,921.7 1110.6,922.4 1112.2,923.1 1113.9,925.2 1115.6,927.9 1117.3,928.4 1119.0,927.7 1120.7,927.8 1122.4,928.8 1124.1,929.1 1125.8,930.2 1127.6,932.9 1129.3,934.8 1131.0,935.8 1132.8,936.3 1134.5,936.7 1136.3,938.0 1138.1,938.8 1139.8,940.0 1141.6,941.8 1143.4,943.6 1145.1,944.9 1146.9,944.7 1148.6,944.2 1150.3,945.0 1152.0,946.4 1153.7,947.0 1155.3,947.7 1157.0,949.8 1158.6,951.6 1160.2,952.2 1161.8,952.9 1163.4,954.2 1165.0,954.8 1166.5,956.4 1168.1,959.1 1169.7,961.0 1171.3,961.8 1172.9,962.1 1174.5,963.4 1176.1,965.6 1177.8,967.3 1179.5,967.3 1181.1,967.4 1182.8,969.0 1184.6,969.9 1186.3,970.9 1188.0,972.6 1189.8,974.0 1191.5,974.9 1193.3,975.1 1195.0,975.1 1196.7,976.2 1198.5,977.6 1200.2,978.9 1201.9,980.7 1203.7,981.2 1205.4,981.7 1207.1,983.4 1208.8,984.7 1210.5,985.9 1212.2,987.3 1213.9,988.3 1215.7,987.7 1217.4,986.8 1219.1,987.6 1220.8,989.6 1222.5,992.7 1224.2,994.7 1226.0,994.3 1227.7,994.4 1229.4,996.5 1231.1,997.7 1232.9,998.3 1234.6,999.4 1236.4,1000.0 1238.1,1000.6 1239.9,1002.1 1241.6,1002.7 1243.4,1003.1 1245.1,1005.1 1246.9,1007.9 1248.7,1009.6 1250.4,1009.5 1252.2,1008.5 1254.0,1008.8 1255.8,1010.4 1257.6,1011.5 1259.4,1011.9 1261.2,1012.0 1263.0,1012.4 1264.8,1013.9 1266.7,1016.3 1268.5,1017.4 1270.3,1017.4 1272.2,1018.6 1274.0,1019.4 1275.8,1019.3 1277.7,1020.5 1279.6,1021.4 1281.4,1021.9 1283.3,1023.2 1285.2,1023.7 1287.0,1023.9 1288.9,1023.9 1290.8,1024.2 1292.7,1025.7 1294.6,1026.7 1296.5,1026.9 1298.4,1027.8 1300.3,1028.7 1302.2,1028.9 1304.1,1029.2 1306.1,1030.4 1308.0,1031.5 1309.9,1031.3 1311.8,1031.5 1313.8,1032.5 1315.7,1033.1 1317.7,1033.6 1319.6,1033.4 1321.6,1032.7 1323.5,1032.7 1325.5,1033.6 1327.4,1033.9 1329.4,1034.0 1331.3,1036.2 1333.3,1037.9 1335.2,1037.0 1337.2,1035.8 1339.2,1036.2 1341.1,1038.1 1343.1,1039.4 1345.0,1039.9 1347.0,1040.1 1349.0,1039.7 1350.9,1040.1 1352.9,1040.9 1354.8,1041.4 1356.8,1042.3 1358.8,1042.6 1360.7,1042.0 1362.7,1041.5 1364.6,1042.7 1366.6,1043.8 1368.6,1043.5 1370.5,1043.5 1372.5,1045.0 1374.5,1046.6 1376.4,1046.4 1378.4,1045.9 1380.3,1047.3 1382.3,1048.7 1384.3,1047.7 1386.2,1046.8 1388.2,1047.5 1390.1,1048.1 1392.1,1048.0 1394.0,1047.6 1396.0,1047.9 1398.0,1049.1 1399.9,1051.2 1401.9,1051.5 1403.8,1050.3 1405.8,1051.2 1407.8,1052.1 1409.7,1051.8 1411.7,1052.5 1413.7,1053.4 1415.7,1053.6 1417.6,1053.4 1419.6,1053.2 1421.6,1054.0 1423.6,1054.6 1425.5,1054.2 1427.5,1054.5 1429.5,1055.7 1431.5,1056.5 1433.4,1056.7 1435.4,1055.7 1437.4,1055.3 1439.4,1057.5 1441.4,1059.4 1443.3,1059.6 1445.3,1059.5 1447.3,1059.4 1449.2,1058.5 1451.2,1058.1 1453.2,1058.9 1455.1,1060.2 1457.1,1061.6 1459.0,1061.8 1461.0,1061.0 1463.0,1061.1 1464.9,1062.0 1466.9,1063.3 1468.8,1064.1 1470.8,1064.3 1472.7,1064.3 1474.6,1063.5 1476.6,1064.4 1478.5,1066.7 1480.5,1067.0 1482.4,1066.8 1484.4,1067.3 1486.3,1067.4 1488.3,1067.8 1490.2,1068.5 1492.2,1069.1 1494.1,1069.3 1496.0,1069.4 1498.0,1069.8 1499.9,1070.4 1501.9,1071.2 1503.8,1071.7 1505.8,1072.3 1507.7,1072.5 1509.6,1072.2 1511.6,1072.6 1513.5,1073.8 1515.5,1075.2 1517.4,1075.9 1519.4,1075.5 1521.3,1075.4 1523.2,1076.3 1525.2,1077.3 1527.1,1078.6 1529.0,1080.2 1531.0,1079.9 1532.9,1078.1 1534.8,1078.2 1536.8,1080.0 1538.7,1081.4 1540.6,1081.9 1542.6,1082.2 1544.5,1082.5 1546.4,1082.2 1548.4,1082.6 1550.3,1083.2 1552.2,1084.0 1554.2,1085.2 1556.1,1084.7 1558.0,1084.5 1559.9,1085.2 1561.9,1085.1 1563.8,1086.1 1565.7,1088.1 1567.7,1090.8 1569.6,1092.3 1571.5,1090.5 1573.4,1089.2 1575.3,1090.6 1577.3,1091.5 1579.2,1091.4 1581.1,1092.9 1583.0,1094.6 1584.9,1094.2 1586.9,1093.3 1588.8,1093.0 1590.7,1093.3 1592.6,1094.4 1594.5,1096.2 1596.5,1097.2 1598.4,1096.0 1600.3,1096.1 1602.2,1098.4 1604.1,1099.6 1606.0,1099.7 1607.9,1100.6 1609.8,1102.0 1611.8,1102.7 1613.7,1103.1 1615.6,1102.7 1617.5,1102.6 1619.4,1104.1 1621.3,1104.7 1623.2,1104.4 1625.1,1105.0 1627.0,1105.7 1628.9,1106.3 1630.8,1107.1 1632.7,1107.2 1634.6,1108.4 1636.6,1110.9 1638.5,1112.3 1640.4,1112.6 1642.3,1112.7 1644.2,1113.1 1646.1,1113.8 1648.0,1114.9 1649.9,1115.6 1651.8,1115.4 1653.7,1115.3 1655.6,1116.3 1657.5,1116.7 1659.4,1115.5 1661.3,1115.6 1663.2,1116.4 1665.1,1117.8 1667.0,1120.0 1668.9,1121.0 1670.8,1121.5 1672.7,1122.0 1674.5,1121.7 1676.4,1122.0 1678.3,1123.5 1680.2,1124.5 1682.0,1124.5 1683.9,1124.9 1685.8,1127.0 1687.6,1128.5 1689.5,1128.2 1691.4,1127.9 1693.2,1128.3 1695.1,1129.2 1696.9,1130.1 1698.8,1131.9 1700.6,1133.9 1702.4,1133.9 1704.3,1133.9 1706.1,1134.4 1708.0,1134.9 1709.8,1136.7 1711.6,1137.4 1713.4,1137.1 1715.3,1137.7 1717.1,1139.5 1718.9,1141.9 1720.7,1142.1 1722.6,1141.3 1724.4,1142.1 1726.2,1143.4 1728.0,1144.4 1729.8,1145.6 1731.6,1146.2 1733.4,1146.5 1735.2,1148.7 1737.0,1150.7 1738.8,1151.0 1740.6,1151.1 1742.4,1151.2 1744.2,1152.0 1746.0,1153.0 1747.8,1153.0 1749.6,1153.8 1751.4,1155.8 1753.2,1156.8 1755.0,1157.8 1756.8,1159.1 1758.5,1160.2 1760.3,1161.4 1762.1,1162.0 1763.9,1162.7 1765.6,1163.7 1767.4,1164.5 1769.2,1165.1 1770.9,1165.9 1772.7,1166.6 1774.5,1168.0 1776.2,1169.9 1778.0,1170.5 1779.7,1169.9 1781.5,1170.1 1783.2,1172.2 1784.9,1174.4 1786.7,1175.3 1788.4,1176.4 1790.1,1177.1 1791.8,1177.3 1793.5,1178.2 1795.2,1180.3 1796.9,1182.2 1798.6,1183.3 1800.3,1183.5 1802.0,1183.7 1803.7,1184.6 1805.4,1185.3 1807.1,1186.6 1808.8,1188.1 1810.5,1189.2 1812.2,1190.6 1813.8,1192.3 1815.5,1193.8 1817.2,1194.6 1818.9,1195.7 1820.6,1197.2 1822.2,1198.2 1823.9,1198.4 1825.6,1198.7 1827.3,1199.9 1829.0,1200.5 1830.6,1200.7 1832.3,1201.6 1834.0,1203.5 1835.7,1205.2 1837.4,1206.2 1839.0,1207.2 1840.7,1208.4 1842.4,1209.6 1844.1,1211.2 1845.8,1212.2 1847.4,1212.3 1849.1,1213.8 1850.8,1215.0 1852.4,1215.5 1854.1,1217.6 1855.8,1220.0 1857.5,1220.7 1859.1,1221.2 1860.8,1222.8 1862.5,1223.5 1864.2,1223.6 1865.8,1224.9 1867.5,1226.5 1869.2,1227.9 1870.9,1229.1 1872.6,1230.1 1874.2,1230.9 1875.9,1231.6 1877.6,1232.6 1879.3,1234.0 1881.0,1235.5 1882.7,1236.3 1884.4,1237.3 1886.0,1239.8 1887.7,1241.6 1889.4,1242.0 1891.1,1242.5 1892.8,1243.0 1894.5,1244.2 1896.2,1246.2 1897.9,1248.0 1899.6,1249.0 1901.3,1248.7 1903.0,1249.7 1904.7,1251.9 1906.4,1252.6 1908.1,1252.3 1909.8,1253.6 1911.5,1255.8 1913.2,1256.6 1914.9,1256.6 1916.6,1256.9 1918.3,1257.7 1920.0,1260.4 1921.7,1262.2 1923.4,1261.7 1925.2,1261.9 1926.9,1262.7 1928.6,1264.4 1930.3,1266.5 1932.0,1267.9 1933.7,1268.2 1935.4,1268.0 1937.1,1269.8 1938.8,1272.5 1940.5,1273.1 1942.3,1273.3 1944.0,1274.3 1945.7,1275.2 1947.4,1276.2 1949.1,1276.9 1950.8,1277.3 1952.5,1278.9 1954.2,1281.7 1956.0,1283.2 1957.7,1283.9 1959.4,1284.7 1961.1,1284.7 1962.9,1285.2 1964.6,1287.1 1966.4,1288.8 1968.1,1289.3 1969.8,1289.1 1971.6,1289.7 1973.4,1291.8 1975.1,1293.2 1976.9,1293.5 1978.7,1294.1 1980.5,1294.8 1982.3,1295.0 1984.1,1295.5 1985.9,1296.9 1987.7,1298.4 1989.5,1299.4 1991.3,1300.3 1993.2,1300.7 1995.0,1301.2 1996.8,1303.4 1998.7,1305.3 2000.5,1305.3 2002.4,1305.8 2004.3,1306.9 2006.1,1307.3 2008.0,1306.9 2009.9,1306.4 2011.7,1308.0 2013.6,1310.5 2015.5,1311.0 2017.4,1311.9 2019.2,1312.5 2021.1,1312.0 2023.0,1313.3 2024.9,1313.7 2026.8,1312.4 2028.7,1313.5 2030.6,1315.2 2032.5,1315.2 2034.4,1315.9 2036.3,1317.3 2038.2,1317.9 2040.1,1318.3 2042.1,1318.9 2044.0,1319.6 2045.9,1321.3 2047.8,1322.8 2049.8,1322.1 2051.7,1321.3 2053.6,1322.2 2055.6,1324.4 2057.5,1325.5 2059.4,1324.1 2061.4,1324.2 2063.3,1325.8 2065.3,1326.1 2067.2,1324.8 2069.2,1324.7 2071.1,1326.7 2073.0,1328.1 2075.0,1328.6 2076.9,1328.7 2078.9,1329.2 2080.8,1329.9 2082.8,1329.8 2084.7,1330.2 2086.6,1331.1 2088.6,1330.1 2090.5,1329.4 2092.5,1330.7 2094.4,1332.0 2096.4,1332.5 2098.3,1333.1 2100.3,1333.8 2102.2,1333.7 2104.2,1334.3 2106.1,1335.9 2108.0,1336.5 2110.0,1336.9"/>
<polyline class="c" stroke="#ff8000" stroke-width="11.0" points="331.3,30.0 331.4,32.0 331.4,34.0 331.5,36.0 331.5,38.0 331.6,40.0 331.7,42.0 331.7,44.0 331.8,46.0 331.9,48.0 332.0,50.0 332.0,52.0 332.1,54.0 332.2,56.0 332.3,58.0 332.4,60.0 332.5,62.0 332.6,64.0 332.7,66.0 332.8,68.0 332.9,70.0 333.0,72.0 333.2,74.0 333.3,76.0 333.4,77.9 333.5,79.9 333.6,82.0 333.8,83.9 333.9,85.9 334.0,87.9 334.2,90.0 334.3,92.0 334.4,93.9 334.6,95.9 334.7,97.9 334.9,99.9 335.0,101.9 335.2,103.9 335.3,105.9 335.5,107.9 335.6,109.9 335.8,111.9 335.9,113.9 336.1,115.8 336.2,117.8 336.4,119.8 336.6,121.8 336.7,123.8 336.9,125.8 337.1,127.8 337.2,129.9 337.4,131.9 337.6,133.9 337.7,135.9 337.9,137.9 338.1,139.8 338.3,141.8 338.4,143.8 338.6,145.7 338.8,147.8 338.9,149.8 339.1,151.8 339.3,153.8 339.5,155.8 339.7,157.8 339.8,159.8 340.0,161.7 340.2,163.7 340.4,165.8 340.5,167.8 340.7,169.7 340.9,171.7 341.1,173.7 341.3,175.8 341.4,177.7 341.6,179.7 341.8,181.7 342.0,183.7 342.2,185.7 342.3,187.7 342.5,189.7 342.7,191.7 342.9,193.7 343.0,195.6 343.2,197.7 343.4,199.7 343.6,201.6 343.7,203.6 343.9,205.5 344.1,207.6 344.2,209.6 344.4,211.6 344.6,213.6 344.8,215.6 344.9,217.6 345.1,219.6 345.2,221.6 345.4,223.6 345.6,225.6 345.7,227.6 345.9,229.6 346.0,231.5 346.2,233.5 346.4,235.6 346.5,237.6 346.7,239.5 346.8,241.5 347.0,243.5 347.1,245.5 347.3,247.5 347.4,249.5 347.5,251.5 347.7,253.5 347.8,255.5 348.0,257.5 348.1,259.5 348.2,261.5 348.4,263.5 348.5,265.5 348.7,267.5 348.8,269.5 348.9,271.5 349.1,273.4 349.2,275.4 349.3,277.5 349.5,279.5 349.6,281.5 349.7,283.5 349.9,285.4 350.0,287.4 350.2,289.5 350.3,291.5 350.4,293.5 350.6,295.4 350.7,297.4 350.9,299.4 351.0,301.4 351.1,303.4 351.3,305.4 351.4,307.4 351.6,309.4 351.7,311.4 351.9,313.4 352.0,315.4 352.2,317.4 352.3,319.4 352.5,321.4 352.6,323.4 352.8,325.4 352.9,327.4 353.1,329.4 353.3,331.4 353.4,333.3 353.6,335.3 353.8,337.3 353.9,339.3 354.1,341.3 354.3,343.3 354.5,345.3 354.7,347.3 354.9,349.3 355.1,351.3 355.2,353.2 355.4,355.3 355.6,357.3 355.8,359.3 356.1,361.2 356.3,363.2 356.5,365.2 356.7,367.2 356.9,369.2 357.1,371.2 357.3,373.1 357.6,375.1 357.8,377.1 358.0,379.0 358.2,381.0 358.5,383.1 358.7,385.1 358.9,387.2 359.2,389.2 359.4,391.1 359.6,393.0 359.9,395.0 360.1,396.9 360.3,398.9 360.6,400.9 360.8,403.0 361.0,405.0 361.3,406.9 361.5,408.9 361.7,410.9 362.0,412.9 362.2,414.9 362.4,416.9 362.7,418.9 362.9,421.0 363.1,422.9 363.3,424.9 363.6,426.8 363.8,428.8 364.0,430.8 364.2,432.8 364.4,434.8 364.6,436.8 364.9,438.9 365.1,440.8 365.3,442.8 365.5,444.8 365.7,446.7 365.9,448.7 366.1,450.8 366.3,452.8 366.4,454.8 366.6,456.7 366.8,458.7 367.0,460.7 367.2,462.7 367.4,464.7 367.6,466.7 367.7,468.6 367.9,470.6 368.1,472.6 368.3,474.7 368.5,476.7 368.7,478.6 368.8,480.6 369.0,482.6 369.2,484.6 369.4,486.6 369.6,488.6 369.8,490.6 370.0,492.6 370.2,494.6 370.4,496.6 370.6,498.6 370.8,500.5 371.0,502.5 371.2,504.5 371.4,506.5 371.6,508.5 371.9,510.6 372.1,512.6 372.3,514.5 372.5,516.5 372.8,518.5 373.0,520.5 373.2,522.5 373.5,524.5 373.7,526.4 373.9,528.4 374.2,530.3 374.4,532.3 374.6,534.3 374.9,536.3 375.1,538.3 375.4,540.2 375.6,542.3 375.9,544.4 376.1,546.3 376.4,548.3 376.6,550.3 376.9,552.2 377.1,554.2 377.4,556.2 377.6,558.2 377.9,560.1 378.1,562.1 378.4,564.1 378.6,566.1 378.9,568.1 379.2,570.1 379.4,572.1 379.7,574.1 379.9,576.1 380.2,578.0 380.5,580.0 380.7,581.9 381.0,583.9 381.3,585.9 381.6,587.9 381.8,589.9 382.1,591.9 382.4,593.9 382.6,596.0 382.9,598.0 383.2,599.9 383.5,601.8 383.8,603.8 384.1,605.9 384.3,607.8 384.6,609.7 384.9,611.6 385.2,613.6 385.5,615.5 385.8,617.5 386.1,619.6 386.4,621.6 386.7,623.6 387.0,625.6 387.2,627.5 387.5,629.4 387.8,631.5 388.1,633.5 388.4,635.4 388.7,637.3 389.0,639.4 389.3,641.4 389.6,643.4 389.9,645.4 390.2,647.4 390.5,649.3 390.8,651.3 391.1,653.2 391.4,655.2 391.8,657.1 392.1,659.1 392.4,661.1 392.7,663.1 393.0,665.1 393.3,667.2 393.7,669.2 394.0,671.2 394.3,673.1 394.7,674.9 395.0,676.8 395.4,678.9 395.8,681.0 396.1,682.9 396.5,684.9 396.9,686.8 397.3,688.7 397.7,690.8 398.1,692.8 398.5,694.6 398.9,696.3 399.3,698.4 399.8,700.4 400.2,702.4 400.7,704.3 401.1,706.2 401.6,708.1 402.1,710.3 402.6,712.4 403.1,714.2 403.6,715.9 404.1,717.7 404.6,719.6 405.1,721.7 405.6,723.7 406.1,725.6 406.7,727.6 407.2,729.7 407.7,731.6 408.2,733.5 408.7,735.3 409.3,737.0 409.8,739.0 410.3,741.1 410.8,743.1 411.3,745.2 411.9,747.1 412.4,748.9 412.9,750.8 413.4,752.8 414.0,754.7 414.5,756.7 415.0,758.6 415.6,760.6 416.1,762.6 416.7,764.5 417.2,766.5 417.8,768.3 418.3,770.1 418.9,772.0 419.5,773.9 420.1,776.0 420.7,777.9 421.3,779.5 421.9,781.2 422.5,783.2 423.1,785.2 423.8,787.0 424.4,788.9 425.1,790.7 425.8,792.6 426.5,794.7 427.2,796.7 427.9,798.4 428.6,800.3 429.3,802.2 430.0,803.8 430.7,805.4 431.5,807.5 432.3,809.8 433.0,812.1 433.8,814.1 434.6,815.7 435.4,817.1 436.2,818.7 437.0,820.8 437.8,823.0 438.6,824.7 439.5,826.2 440.3,828.1 441.1,830.4 441.9,832.3 442.7,833.8 443.6,835.2 444.4,836.9 445.2,838.8 446.0,840.8 446.8,842.9 447.7,845.0 448.5,846.8 449.3,848.5 450.1,850.1 451.0,851.8 451.8,853.6 452.7,855.5 453.6,857.5 454.4,858.9 455.3,860.2 456.2,862.1 457.1,863.9 458.1,865.5 459.0,867.6 459.9,870.1 460.9,872.0 461.8,873.5 462.8,875.4 463.7,877.1 464.6,878.3 465.6,880.1 466.5,882.1 467.5,883.6 468.4,885.1 469.4,887.2 470.4,889.6 471.3,891.8 472.3,893.4 473.4,894.9 474.4,896.8 475.5,898.1 476.6,899.1 477.7,901.0 478.9,902.8 480.1,904.4 481.3,906.2 482.6,908.0 483.9,909.3 485.3,910.5 486.7,912.3 488.2,913.5 489.7,914.7 491.2,916.3 492.8,916.9 494.4,917.3 496.1,918.1 497.7,918.8 499.5,921.1 501.2,923.2 503.0,923.3 504.8,923.3 506.7,923.8 508.6,925.4 510.4,927.8 512.4,928.2 514.3,927.4 516.2,927.3 518.2,927.2 520.2,927.1 522.1,927.1 524.1,927.8 526.1,929.1 528.1,929.8 530.0,929.4 532.0,927.9 534.0,926.9 535.9,926.7 537.8,926.9 539.8,927.5 541.7,927.4 543.6,926.3 545.5,924.1 547.3,922.8 549.2,923.8 551.0,923.2 552.8,920.9 554.6,920.6 556.4,920.2 558.1,919.0 559.9,918.5 561.6,916.7 563.4,915.3 565.1,915.5 566.8,914.2 568.5,912.6 570.3,911.3 572.0,910.2 573.7,909.9 575.4,908.7 577.2,907.3 578.9,906.5 580.6,906.1 582.4,905.1 584.1,903.6 585.8,902.8 587.6,901.4 589.3,899.9 591.1,898.9 592.8,897.6 594.6,897.1 596.3,897.1 598.0,896.4 599.8,895.6 601.5,894.0 603.2,891.3 604.9,889.5 606.6,889.4 608.2,889.4 609.9,888.1 611.6,887.0 613.3,885.9 615.0,883.7 616.6,882.5 618.3,883.3 620.0,883.5 621.6,881.3 623.3,879.2 625.0,878.7 626.7,878.4 628.4,877.0 630.0,874.9 631.7,873.4 633.4,873.0 635.1,872.9 636.8,873.0 638.5,871.7 640.2,868.9 641.9,867.1 643.7,866.4 645.4,865.7 647.1,865.2 648.8,864.3 650.5,863.5 652.3,862.7 654.0,860.6 655.7,858.2 657.4,856.7 659.2,855.9 660.9,854.7 662.6,854.0 664.4,854.5 666.1,853.9 667.9,852.1 669.6,850.2 671.3,848.8 673.1,849.1 674.8,849.0 676.6,846.9 678.4,846.4 680.1,846.6 681.9,845.2 683.6,844.1 685.4,843.1 687.2,841.8 688.9,841.7 690.7,841.2 692.5,838.7 694.3,837.4 696.1,837.7 697.8,837.9 699.6,837.4 701.4,835.6 703.2,833.2 705.0,831.9 706.8,832.0 708.6,831.2 710.4,829.6 712.2,829.2 713.9,829.2 715.8,828.2 717.6,826.6 719.4,825.5 721.2,824.2 723.0,823.4 724.8,823.7 726.6,825.0 728.4,825.1 730.2,822.6 732.0,820.9 733.9,819.6 735.7,817.9 737.5,817.0 739.3,816.6 741.2,817.2 743.0,817.1 744.8,814.9 746.7,813.6 748.5,813.8 750.3,812.8 752.2,811.5 754.0,810.1 755.9,808.6 757.8,808.9 759.6,809.3 761.5,808.3 763.4,806.7 765.3,805.7 767.2,805.7 769.1,805.3 771.0,804.1 772.9,803.5 774.8,804.0 776.7,803.9 778.6,802.9 780.4,802.5 782.3,802.6 784.2,801.7 786.1,799.8 788.0,798.1 789.9,797.2 791.7,797.0 793.6,797.1 795.5,796.4 797.4,795.0 799.3,793.8 801.2,793.4 803.1,793.5 805.0,792.8 806.9,791.6 808.8,790.7 810.7,789.8 812.7,790.3 814.6,791.2 816.6,790.4 818.6,788.5 820.5,787.3 822.5,787.4 824.5,788.8 826.5,788.6 828.5,786.2 830.5,785.4 832.5,785.9 834.5,785.2 836.5,784.7 838.4,786.1 840.4,786.5 842.4,785.6 844.4,786.7 846.4,788.4 848.3,788.4 850.3,788.7 852.2,790.1 854.2,789.6 856.1,788.9 858.0,789.5 859.9,790.0 861.8,790.6 863.6,791.3 865.5,792.3 867.3,793.6 869.1,795.1 871.0,796.2 872.8,796.5 874.6,797.4 876.4,797.8 878.2,797.8 880.0,799.3 881.8,801.1 883.6,802.3 885.4,804.6 887.1,806.5 888.8,806.2 890.5,806.2 892.1,807.6 893.7,808.3 895.3,808.8 896.8,810.5 898.3,811.0 899.8,811.1 901.2,812.9 902.6,815.3 904.0,817.1 905.3,818.7 906.7,820.3 908.0,821.6 909.4,822.2 910.7,823.3 912.1,825.7 913.5,827.7 914.9,828.1 916.3,828.3 917.8,830.4 919.3,833.0 920.8,833.8 922.4,834.2 924.0,835.8 925.6,837.5 927.2,838.3 928.8,838.6 930.5,839.7 932.1,842.1 933.7,844.1 935.3,845.2 937.0,846.5 938.6,847.6 940.2,848.5 941.8,849.7 943.4,851.2 944.9,852.8 946.5,853.7 948.1,854.3 949.7,855.6 951.2,857.1 952.8,858.5 954.4,859.8 955.9,860.5 957.5,861.2 959.1,863.3 960.6,864.9 962.2,865.7 963.8,867.5 965.4,868.7 967.0,868.7 968.6,869.6 970.1,871.5 971.7,872.5 973.3,873.7 974.9,875.2 976.5,875.7 978.1,876.4 979.7,877.8 981.3,879.9 982.9,881.9 984.5,883.2 986.1,884.1 987.7,884.9 989.3,885.9 990.9,887.6 992.5,889.8 994.1,889.9 995.7,889.4 997.3,891.4 998.9,893.7 1000.5,894.1 1002.1,895.2 1003.7,896.8 1005.3,898.0 1006.9,900.4 1008.5,901.9 1010.1,902.3 1011.7,903.3 1013.3,903.7 1014.9,904.6 1016.5,906.6 1018.1,907.9 1019.7,909.0 1021.3,910.1 1023.0,910.3 1024.6,911.0 1026.3,912.9 1027.9,915.2 1029.6,917.0 1031.2,917.3 1032.9,917.4 1034.6,919.0 1036.3,920.0 1038.0,920.0 1039.7,921.4 1041.4,923.8 1043.1,925.3 1044.8,926.1 1046.6,927.0 1048.3,927.9 1050.0,928.6 1051.8,929.1 1053.5,929.6 1055.3,930.7 1057.0,932.9 1058.7,935.1 1060.5,935.4 1062.2,935.3 1064.0,936.0 1065.7,936.9 1067.5,938.1 1069.3,939.4 1071.0,940.6 1072.8,941.4 1074.6,941.9 1076.3,943.2 1078.1,944.2 1079.9,944.2 1081.7,945.4 1083.5,946.7 1085.2,947.1 1087.0,947.1 1088.8,948.1 1090.6,950.0 1092.3,950.4 1094.1,951.0 1095.9,952.3 1097.7,953.1 1099.4,955.0 1101.2,956.7 1103.0,957.3 1104.7,957.3 1106.5,956.9 1108.3,958.2 1110.0,960.7 1111.8,961.5 1113.5,962.5 1115.3,964.2 1117.0,964.4 1118.8,964.8 1120.5,966.0 1122.3,966.7 1124.0,967.2 1125.8,968.9 1127.5,971.3 1129.2,971.2 1131.0,969.6 1132.7,970.8 1134.4,973.7 1136.2,975.2 1137.9,976.4 1139.6,977.3 1141.3,977.8 1143.0,979.7 1144.7,981.2 1146.5,982.0 1148.2,983.2 1149.9,984.2 1151.6,984.5 1153.3,985.4 1155.0,987.1 1156.7,987.7 1158.4,988.4 1160.1,990.8 1161.8,992.8 1163.5,993.5 1165.2,993.7 1166.9,994.2 1168.6,994.6 1170.3,995.3 1172.0,996.9 1173.8,998.1 1175.5,999.5 1177.2,1000.7 1178.9,1000.4 1180.7,1000.7 1182.4,1002.9 1184.1,1004.8 1185.9,1005.4 1187.6,1005.5 1189.4,1006.1 1191.1,1006.7 1192.9,1008.2 1194.6,1010.6 1196.4,1012.3 1198.1,1012.8 1199.9,1013.9 1201.6,1015.3 1203.3,1014.4 1205.1,1013.9 1206.8,1016.0 1208.6,1018.2 1210.4,1019.1 1212.1,1019.6 1213.9,1021.5 1215.6,1023.0 1217.4,1022.4 1219.2,1022.0 1220.9,1023.0 1222.7,1025.3 1224.5,1027.4 1226.3,1028.5 1228.1,1029.6 1229.9,1030.4 1231.7,1030.8 1233.6,1031.0 1235.4,1030.6 1237.2,1031.2 1239.1,1032.5 1240.9,1033.4 1242.7,1035.3 1244.6,1036.9 1246.4,1036.7 1248.2,1036.2 1250.1,1037.4 1251.9,1039.0 1253.8,1039.3 1255.6,1039.7 1257.4,1040.7 1259.3,1042.1 1261.1,1043.2 1262.9,1042.7 1264.8,1043.3 1266.6,1045.6 1268.5,1046.7 1270.3,1047.1 1272.2,1047.8 1274.0,1049.1 1275.9,1050.6 1277.7,1051.0 1279.6,1050.3 1281.5,1050.6 1283.3,1051.9 1285.2,1052.9 1287.1,1053.3 1288.9,1052.4 1290.8,1052.4 1292.7,1054.9 1294.5,1057.1 1296.4,1058.2 1298.3,1059.4 1300.1,1059.3 1302.0,1059.2 1303.9,1060.1 1305.8,1061.0 1307.6,1062.0 1309.5,1062.4 1311.4,1062.7 1313.3,1063.2 1315.2,1062.9 1317.1,1062.8 1319.0,1063.0 1320.9,1063.5 1322.9,1065.7 1324.8,1068.3 1326.7,1069.3 1328.6,1068.3 1330.6,1066.8 1332.5,1067.6 1334.4,1069.3 1336.4,1069.4 1338.3,1069.0 1340.3,1068.6 1342.2,1070.0 1344.2,1072.0 1346.1,1072.3 1348.1,1071.8 1350.1,1071.3 1352.0,1072.2 1354.0,1074.0 1355.9,1074.5 1357.9,1074.2 1359.9,1074.2 1361.8,1074.6 1363.8,1076.3 1365.8,1076.9 1367.7,1075.9 1369.7,1076.6 1371.7,1077.4 1373.6,1077.9 1375.6,1079.8 1377.5,1080.1 1379.5,1079.2 1381.5,1080.2 1383.4,1080.5 1385.4,1079.5 1387.3,1079.9 1389.3,1080.5 1391.2,1080.9 1393.2,1081.6 1395.1,1081.0 1397.1,1080.0 1399.0,1080.7 1401.0,1082.7 1403.0,1084.0 1404.9,1084.1 1406.9,1084.2 1408.8,1085.3 1410.8,1086.6 1412.7,1086.3 1414.7,1085.4 1416.7,1086.4 1418.6,1087.5 1420.6,1087.0 1422.5,1087.0 1424.5,1087.3 1426.5,1087.8 1428.4,1088.1 1430.4,1088.2 1432.4,1089.7 1434.3,1089.6 1436.3,1089.1 1438.2,1089.6 1440.2,1089.9 1442.2,1091.6 1444.1,1092.6 1446.1,1092.0 1448.0,1092.6 1450.0,1093.6 1451.9,1093.5 1453.9,1094.0 1455.8,1095.6 1457.8,1096.4 1459.7,1095.7 1461.7,1096.3 1463.6,1096.3 1465.6,1095.0 1467.5,1095.1 1469.4,1095.2 1471.4,1096.7 1473.3,1099.9 1475.3,1101.1 1477.2,1101.2 1479.1,1101.1 1481.1,1101.1 1483.0,1101.0 1484.9,1101.2 1486.9,1102.1 1488.8,1103.7 1490.7,1104.8 1492.7,1104.6 1494.6,1104.6 1496.5,1105.0 1498.5,1104.9 1500.4,1105.4 1502.4,1106.6 1504.3,1107.0 1506.2,1107.2 1508.2,1108.3 1510.1,1109.5 1512.0,1109.9 1514.0,1109.9 1515.9,1110.3 1517.8,1111.3 1519.8,1112.1 1521.7,1112.9 1523.7,1114.1 1525.6,1114.8 1527.5,1113.7 1529.5,1113.4 1531.4,1116.0 1533.3,1117.1 1535.3,1115.5 1537.2,1114.1 1539.1,1114.4 1541.1,1115.9 1543.0,1117.4 1545.0,1117.7 1546.9,1116.8 1548.8,1117.9 1550.8,1119.6 1552.7,1119.3 1554.6,1119.4 1556.5,1120.4 1558.5,1120.8 1560.4,1121.2 1562.3,1121.9 1564.3,1122.3 1566.2,1123.3 1568.1,1124.4 1570.0,1124.6 1572.0,1124.7 1573.9,1125.4 1575.8,1126.1 1577.7,1126.4 1579.6,1126.3 1581.5,1125.3 1583.5,1125.7 1585.4,1127.7 1587.3,1130.0 1589.2,1130.3 1591.1,1129.5 1593.0,1130.9 1594.9,1132.9 1596.8,1133.4 1598.8,1133.0 1600.7,1132.1 1602.6,1132.7 1604.5,1135.8 1606.4,1137.6 1608.3,1137.0 1610.2,1136.7 1612.1,1137.4 1614.0,1138.5 1615.9,1138.5 1617.8,1137.8 1619.8,1137.8 1621.7,1139.3 1623.6,1141.6 1625.5,1142.3 1627.4,1142.1 1629.3,1142.9 1631.2,1143.3 1633.1,1143.1 1635.1,1142.7 1637.0,1142.6 1638.9,1144.5 1640.8,1146.5 1642.8,1146.1 1644.7,1146.8 1646.6,1147.6 1648.5,1147.1 1650.5,1148.1 1652.4,1149.2 1654.3,1150.2 1656.3,1151.2 1658.2,1151.1 1660.1,1151.6 1662.1,1152.9 1664.0,1153.1 1665.9,1152.7 1667.8,1152.6 1669.8,1153.5 1671.7,1154.8 1673.6,1154.9 1675.5,1156.3 1677.4,1158.4 1679.4,1158.4 1681.3,1157.4 1683.2,1157.2 1685.1,1158.4 1687.0,1160.1 1688.9,1160.8 1690.8,1162.0 1692.7,1163.2 1694.5,1162.2 1696.4,1161.7 1698.3,1162.9 1700.2,1164.2 1702.1,1165.0 1703.9,1165.7 1705.8,1166.9 1707.7,1167.5 1709.6,1166.5 1711.4,1166.5 1713.3,1168.3 1715.1,1169.1 1717.0,1169.5 1718.9,1170.4 1720.7,1170.6 1722.6,1171.7 1724.4,1173.1 1726.2,1174.2 1728.1,1174.9 1729.9,1175.2 1731.8,1175.7 1733.6,1176.4 1735.4,1177.7 1737.3,1179.1 1739.1,1179.2 1740.9,1179.4 1742.7,1180.8 1744.6,1182.9 1746.4,1184.1 1748.2,1184.3 1750.0,1184.0 1751.8,1185.4 1753.7,1187.3 1755.5,1187.0 1757.3,1187.0 1759.1,1187.9 1760.9,1189.0 1762.7,1191.1 1764.5,1192.6 1766.3,1192.8 1768.1,1192.8 1769.8,1194.1 1771.6,1196.3 1773.4,1198.5 1775.2,1200.3 1776.9,1199.4 1778.7,1198.2 1780.5,1199.3 1782.2,1201.2 1784.0,1202.7 1785.7,1203.5 1787.5,1204.2 1789.2,1205.2 1790.9,1206.9 1792.7,1208.1 1794.4,1207.3 1796.1,1206.9 1797.8,1209.1 1799.5,1211.9 1801.2,1212.8 1802.9,1212.7 1804.6,1213.8 1806.4,1215.8 1808.1,1216.9 1809.8,1217.2 1811.4,1218.0 1813.1,1219.1 1814.8,1220.5 1816.5,1222.4 1818.2,1223.2 1819.9,1222.3 1821.6,1223.1 1823.3,1225.4 1825.0,1226.5 1826.7,1226.8 1828.4,1228.1 1830.0,1229.6 1831.7,1230.7 1833.4,1231.9 1835.1,1233.6 1836.8,1235.5 1838.4,1236.8 1840.1,1237.6 1841.8,1238.1 1843.5,1238.4 1845.2,1239.7 1846.8,1241.6 1848.5,1242.9 1850.2,1244.1 1851.8,1245.0 1853.5,1245.9 1855.2,1246.5 1856.8,1246.8 1858.5,1248.1 1860.2,1249.9 1861.8,1251.3 1863.5,1252.2 1865.1,1253.2 1866.8,1254.4 1868.5,1256.1 1870.1,1257.3 1871.8,1258.0 1873.5,1259.0 1875.1,1260.5 1876.8,1261.6 1878.5,1262.3 1880.1,1263.1 1881.8,1263.8 1883.5,1264.8 1885.1,1266.6 1886.8,1267.9 1888.5,1269.0 1890.1,1270.6 1891.8,1271.4 1893.5,1272.7 1895.1,1273.3 1896.8,1273.4 1898.5,1274.4 1900.1,1275.6 1901.8,1277.5 1903.4,1280.1 1905.1,1281.9 1906.8,1281.9 1908.4,1281.4 1910.1,1283.2 1911.8,1285.5 1913.5,1286.9 1915.1,1287.8 1916.8,1287.7 1918.5,1287.7 1920.2,1288.6 1921.9,1290.6 1923.6,1292.4 1925.3,1293.1 1927.0,1294.5 1928.8,1296.0 1930.5,1296.7 1932.2,1297.2 1933.9,1298.8 1935.7,1300.2 1937.4,1300.1 1939.2,1301.6 1940.9,1303.6 1942.7,1304.5 1944.4,1304.1 1946.2,1303.0 1948.0,1303.8 1949.8,1305.4 1951.5,1306.7 1953.3,1308.4 1955.1,1309.4 1956.9,1310.1 1958.7,1310.9 1960.5,1311.5 1962.3,1313.0 1964.1,1313.3 1965.9,1312.5 1967.7,1312.7 1969.5,1313.9 1971.3,1315.8 1973.1,1318.4 1974.9,1320.4 1976.8,1320.4 1978.6,1318.9 1980.4,1318.9 1982.2,1320.5 1984.1,1321.7 1985.9,1322.9 1987.7,1325.1 1989.6,1326.6 1991.4,1326.0 1993.2,1327.3 1995.1,1329.3 1996.9,1328.6 1998.8,1329.2 2000.6,1330.2 2002.5,1329.0 2004.3,1328.7 2006.2,1330.7 2008.1,1333.1 2009.9,1334.5 2011.8,1335.6 2013.7,1336.8 2015.6,1336.6 2017.4,1336.3 2019.3,1337.5 2021.2,1338.8 2023.1,1339.0 2025.0,1339.7 2026.9,1341.8 2028.8,1342.9 2030.6,1342.2 2032.5,1340.8 2034.4,1341.0 2036.3,1342.5 2038.2,1343.4 2040.1,1344.0 2042.0,1345.1 2043.9,1345.9 2045.8,1346.1 2047.7,1346.8 2049.6,1347.4 2051.5,1347.8 2053.4,1349.0 2055.3,1350.4 2057.2,1350.6 2059.1,1350.6 2061.0,1351.6 2063.0,1352.6 2064.9,1353.1 2066.8,1353.7 2068.7,1354.8 2070.7,1354.7 2072.6,1353.5 2074.5,1353.1 2076.5,1354.2 2078.4,1355.8 2080.4,1356.2 2082.3,1356.5 2084.3,1357.9 2086.2,1360.1 2088.2,1360.9 2090.1,1360.5 2092.1,1361.1 2094.1,1361.4 2096.1,1360.9 2098.0,1359.7 2100.0,1359.2 2102.0,1361.0 2104.0,1361.5 2106.0,1360.2 2108.0,1360.6 2110.0,1361.7"/>
<polyline class="c" stroke="#800000" stroke-width="11.0" points="341.8,30.0 341.9,32.0 341.9,34.0 342.0,36.0 342.0,38.0 342.1,40.0 342.2,42.0 342.2,44.0 342.3,46.0 342.4,48.0 342.5,50.0 342.5,52.0 342.6,54.0 342.7,56.0 342.8,58.0 342.9,60.0 343.0,62.0 343.1,64.0 343.2,66.0 343.3,68.0 343.4,70.0 343.5,72.0 343.6,74.0 343.7,76.0 343.8,78.0 344.0,80.0 344.1,82.0 344.2,84.0 344.3,86.0 344.4,88.0 344.6,89.9 344.7,92.0 344.8,93.9 345.0,95.9 345.1,97.9 345.2,100.0 345.4,102.0 345.5,104.0 345.6,105.9 345.8,107.9 345.9,109.9 346.1,111.9 346.2,113.9 346.3,115.9 346.5,117.9 346.6,119.9 346.8,121.9 346.9,123.9 347.1,125.9 347.3,127.9 347.4,129.9 347.6,131.9 347.7,133.9 347.9,135.9 348.0,137.9 348.2,139.9 348.4,141.8 348.5,143.9 348.7,145.9 348.9,147.9 349.0,149.9 349.2,151.9 349.4,153.8 349.5,155.8 349.7,157.8 349.9,159.8 350.0,161.8 350.2,163.8 350.4,165.8 350.6,167.9 350.7,169.9 350.9,171.8 351.1,173.8 351.3,175.8 351.4,177.8 351.6,179.8 351.8,181.8 352.0,183.8 352.1,185.8 352.3,187.7 352.5,189.7 352.7,191.7 352.9,193.7 353.0,195.7 353.2,197.7 353.4,199.7 353.6,201.7 353.8,203.7 353.9,205.7 354.1,207.7 354.3,209.7 354.5,211.7 354.7,213.7 354.8,215.7 355.0,217.7 355.2,219.7 355.4,221.6 355.5,223.6 355.7,225.6 355.9,227.6 356.1,229.7 356.3,231.7 356.4,233.6 356.6,235.6 356.8,237.6 357.0,239.6 357.1,241.6 357.3,243.6 357.5,245.6 357.7,247.6 357.9,249.6 358.0,251.6 358.2,253.5 358.4,255.5 358.6,257.5 358.8,259.5 359.0,261.6 359.2,263.5 359.4,265.5 359.5,267.5 359.7,269.5 359.9,271.5 360.1,273.5 360.3,275.4 360.5,277.5 360.7,279.5 360.9,281.5 361.1,283.5 361.3,285.4 361.5,287.4 361.7,289.4 361.9,291.4 362.1,293.3 362.3,295.3 362.5,297.4 362.7,299.4 363.0,301.4 363.2,303.4 363.4,305.3 363.6,307.3 363.8,309.2 364.0,311.2 364.2,313.3 364.4,315.3 364.6,317.3 364.8,319.2 365.0,321.3 365.2,323.3 365.4,325.3 365.7,327.3 365.9,329.3 366.1,331.2 366.3,333.2 366.5,335.2 366.7,337.2 366.9,339.2 367.1,341.2 367.3,343.2 367.5,345.1 367.8,347.1 368.0,349.1 368.2,351.1 368.4,353.1 368.6,355.0 368.8,357.1 369.0,359.0 369.2,361.0 369.4,363.0 369.7,365.0 369.9,367.0 370.1,369.0 370.3,371.1 370.5,373.1 370.7,375.1 370.9,377.1 371.2,379.0 371.4,381.0 371.6,383.0 371.8,384.9 372.0,386.9 372.2,388.9 372.5,390.9 372.7,392.9 372.9,394.9 373.1,396.9 373.3,398.8 373.6,400.8 373.8,402.8 374.0,404.8 374.2,406.8 374.5,408.8 374.7,410.8 374.9,412.8 375.1,414.8 375.4,416.8 375.6,418.8 375.8,420.8 376.0,422.8 376.3,424.7 376.5,426.7 376.7,428.7 376.9,430.7 377.2,432.8 377.4,434.7 377.6,436.6 377.8,438.6 378.1,440.6 378.3,442.7 378.5,444.6 378.8,446.6 379.0,448.7 379.2,450.6 379.4,452.5 379.7,454.5 379.9,456.5 380.1,458.6 380.4,460.5 380.6,462.5 380.8,464.5 381.1,466.5 381.3,468.5 381.5,470.4 381.8,472.4 382.0,474.4 382.3,476.4 382.5,478.5 382.7,480.5 383.0,482.4 383.3,484.3 383.5,486.4 383.8,488.4 384.0,490.4 384.3,492.5 384.6,494.4 384.9,496.3 385.1,498.2 385.4,500.2 385.7,502.2 386.0,504.2 386.3,506.2 386.6,508.2 386.9,510.1 387.2,512.1 387.5,514.2 387.8,516.1 388.1,518.0 388.4,520.0 388.7,522.0 389.0,523.9 389.4,525.9 389.7,528.0 390.0,530.0 390.4,531.9 390.7,533.8 391.0,535.8 391.4,537.8 391.7,539.7 392.1,541.7 392.4,543.7 392.8,545.7 393.2,547.6 393.5,549.6 393.9,551.6 394.3,553.6 394.7,555.5 395.1,557.5 395.5,559.4 395.9,561.4 396.3,563.4 396.7,565.4 397.1,567.3 397.5,569.1 397.9,571.1 398.3,573.2 398.7,575.1 399.1,577.1 399.5,579.0 399.9,580.9 400.3,582.9 400.7,585.0 401.1,586.9 401.5,588.7 401.9,590.7 402.3,592.8 402.7,594.7 403.1,596.7 403.5,598.8 403.8,600.6 404.2,602.5 404.6,604.7 405.0,606.7 405.4,608.7 405.7,610.7 406.1,612.6 406.5,614.5 406.9,616.4 407.3,618.3 407.7,620.3 408.1,622.4 408.5,624.4 408.9,626.3 409.3,628.1 409.7,630.1 410.1,632.2 410.5,634.1 410.9,636.0 411.3,638.1 411.7,640.1 412.2,642.0 412.6,643.8 413.0,645.7 413.5,647.8 413.9,649.7 414.4,651.5 414.8,653.4 415.3,655.5 415.7,657.4 416.2,659.4 416.7,661.5 417.2,663.4 417.6,665.4 418.1,667.5 418.6,669.3 419.1,671.1 419.5,673.0 420.0,674.9 420.5,676.8 421.0,678.7 421.5,680.7 421.9,682.6 422.4,684.7 422.9,686.6 423.4,688.4 423.8,690.4 424.3,692.4 424.8,694.3 425.2,696.2 425.7,698.2 426.2,700.3 426.6,702.3 427.1,704.0 427.5,705.9 428.0,708.0 428.5,710.1 428.9,712.0 429.4,714.0 429.9,716.0 430.3,717.9 430.8,719.7 431.3,721.6 431.8,723.6 432.3,725.5 432.8,727.4 433.3,729.4 433.8,731.4 434.3,733.2 434.9,735.1 435.4,737.2 436.0,739.1 436.5,740.7 437.1,742.7 437.7,744.9 438.3,746.7 438.9,748.4 439.6,750.5 440.2,752.6 440.8,754.2 441.5,755.9 442.2,758.1 442.8,760.2 443.5,761.9 444.2,763.9 444.9,765.9 445.6,767.7 446.4,769.4 447.1,771.3 447.8,773.3 448.6,775.2 449.4,777.0 450.2,778.5 451.0,780.1 451.8,782.2 452.6,783.8 453.5,785.3 454.4,787.4 455.3,789.5 456.2,790.9 457.1,792.1 458.1,794.0 459.0,796.0 460.0,797.7 460.9,799.3 461.9,801.6 462.9,803.8 463.8,805.5 464.8,807.1 465.7,808.9 466.7,811.0 467.7,812.6 468.6,814.1 469.5,816.0 470.5,818.1 471.4,820.0 472.4,821.4 473.3,822.7 474.3,824.5 475.2,826.5 476.2,828.5 477.2,830.0 478.3,831.0 479.3,832.5 480.4,834.7 481.5,837.0 482.6,838.9 483.8,840.4 484.9,841.9 486.1,843.2 487.4,844.9 488.6,846.5 489.9,847.9 491.1,849.6 492.4,851.7 493.7,852.9 495.0,853.5 496.4,855.0 497.7,857.1 499.1,858.5 500.4,859.1 501.8,860.5 503.2,863.1 504.6,865.1 506.1,865.7 507.6,866.7 509.1,868.4 510.6,869.9 512.2,871.2 513.8,872.3 515.4,873.5 517.1,874.8 518.8,876.0 520.6,877.0 522.4,877.3 524.2,877.2 526.1,878.3 528.0,879.7 529.9,880.7 531.8,881.6 533.8,881.6 535.8,880.3 537.8,880.1 539.7,880.3 541.7,879.7 543.7,879.5 545.7,879.3 547.7,880.1 549.7,881.1 551.7,880.5 553.6,879.3 555.6,878.0 557.5,877.1 559.5,876.6 561.4,877.1 563.3,878.3 565.3,878.0 567.2,876.4 569.1,874.8 571.0,873.8 572.9,873.7 574.8,872.8 576.7,870.6 578.6,869.5 580.5,869.7 582.4,869.5 584.3,868.7 586.2,868.0 588.1,866.6 590.0,866.3 591.9,867.6 593.8,866.8 595.6,863.9 597.5,862.0 599.4,862.2 601.2,862.8 603.1,861.8 604.9,860.6 606.7,861.0 608.5,860.4 610.4,858.3 612.2,857.1 614.0,856.8 615.8,856.8 617.6,855.6 619.4,853.3 621.2,852.3 623.0,852.5 624.8,851.9 626.6,850.9 628.4,850.1 630.2,848.8 632.0,846.8 633.8,846.3 635.7,847.3 637.5,847.4 639.3,845.8 641.1,843.8 642.9,842.4 644.7,841.4 646.5,840.7 648.3,839.9 650.1,839.5 651.9,839.7 653.7,839.5 655.5,838.2 657.3,836.9 659.1,835.8 660.9,836.0 662.7,835.6 664.5,832.7 666.2,831.0 668.0,831.2 669.8,830.2 671.6,828.9 673.3,828.4 675.1,827.9 676.9,827.3 678.6,825.7 680.4,823.5 682.1,821.5 683.9,820.1 685.6,820.3 687.4,820.2 689.2,818.7 690.9,818.4 692.7,818.7 694.4,818.0 696.2,817.2 697.9,816.3 699.7,814.9 701.4,812.5 703.2,811.6 704.9,812.0 706.7,810.7 708.4,808.7 710.1,807.9 711.9,807.9 713.6,806.8 715.3,805.0 717.1,803.4 718.8,802.3 720.5,801.3 722.2,800.5 724.0,799.6 725.7,798.0 727.4,797.1 729.2,796.5 730.9,795.7 732.7,796.0 734.4,794.9 736.2,793.0 738.0,792.3 739.8,791.5 741.5,790.6 743.3,789.6 745.2,788.3 747.0,787.2 748.8,786.8 750.6,786.8 752.4,786.6 754.3,785.1 756.1,783.1 757.9,782.2 759.7,781.4 761.6,781.4 763.4,782.1 765.3,781.3 767.1,779.0 768.9,777.2 770.8,777.6 772.6,777.9 774.5,775.6 776.3,772.8 778.2,771.7 780.0,772.1 781.9,772.7 783.8,771.6 785.7,770.4 787.5,770.8 789.4,770.6 791.3,769.0 793.2,767.7 795.1,767.9 797.0,767.2 798.9,764.8 800.8,764.8 802.7,766.6 804.6,766.1 806.5,764.0 808.5,762.1 810.4,761.4 812.3,762.3 814.3,762.8 816.2,761.2 818.1,760.0 820.1,761.5 822.0,762.1 824.0,760.1 825.9,757.8 827.9,757.0 829.8,757.4 831.8,758.3 833.8,758.3 835.8,756.3 837.8,755.5 839.7,756.1 841.7,755.9 843.7,755.2 845.7,755.1 847.7,756.1 849.7,756.9 851.6,757.8 853.6,758.5 855.6,758.2 857.5,758.5 859.4,759.1 861.3,759.5 863.2,759.6 865.1,759.3 867.0,760.6 868.8,762.7 870.7,764.1 872.5,764.4 874.3,764.2 876.0,765.1 877.8,766.7 879.5,767.8 881.3,769.4 883.0,770.9 884.7,771.3 886.3,772.1 888.0,773.9 889.6,775.2 891.3,776.6 892.9,778.4 894.5,779.1 896.0,779.2 897.6,780.4 899.1,782.3 900.7,783.4 902.2,784.4 903.7,786.3 905.3,788.5 906.8,789.0 908.3,789.0 909.8,790.3 911.3,791.5 912.8,793.2 914.4,794.9 915.9,795.8 917.4,797.3 919.0,799.1 920.5,800.2 922.1,801.2 923.6,802.6 925.2,804.1 926.8,805.6 928.4,806.9 929.9,808.4 931.5,810.2 933.1,811.2 934.6,811.8 936.2,813.0 937.8,814.2 939.3,815.8 940.9,817.2 942.4,817.2 943.9,818.0 945.5,819.9 947.0,821.7 948.5,823.6 950.0,825.2 951.6,826.0 953.1,826.7 954.6,827.4 956.1,828.4 957.7,830.0 959.2,831.4 960.7,832.9 962.3,835.0 963.8,836.0 965.4,835.4 966.9,836.4 968.5,838.8 970.1,839.2 971.7,838.9 973.3,841.0 974.9,844.2 976.5,846.7 978.2,848.1 979.8,849.6 981.5,851.2 983.1,851.5 984.8,851.0 986.4,851.5 988.1,852.9 989.7,854.2 991.4,855.5 993.1,857.4 994.7,859.0 996.4,859.4 998.0,860.0 999.7,860.4 1001.3,861.5 1003.0,863.7 1004.6,864.9 1006.3,866.3 1007.9,867.5 1009.6,867.7 1011.2,869.3 1012.8,871.0 1014.5,871.4 1016.1,872.8 1017.7,874.9 1019.4,876.2 1021.0,877.2 1022.7,878.4 1024.3,879.4 1025.9,880.4 1027.6,881.0 1029.2,881.4 1030.9,882.7 1032.6,884.5 1034.2,886.1 1035.9,887.2 1037.6,888.0 1039.3,889.0 1041.0,889.8 1042.7,890.4 1044.5,891.2 1046.2,891.9 1048.0,892.4 1049.7,894.2 1051.5,896.8 1053.3,897.1 1055.0,896.4 1056.8,897.4 1058.6,898.8 1060.4,899.8 1062.2,901.2 1064.0,902.6 1065.8,902.3 1067.6,901.8 1069.5,903.7 1071.3,905.9 1073.1,906.5 1074.9,906.4 1076.7,906.4 1078.5,907.5 1080.2,909.4 1082.0,910.0 1083.8,909.7 1085.6,911.0 1087.4,912.3 1089.2,912.8 1091.0,914.0 1092.7,915.3 1094.5,915.6 1096.3,916.6 1098.0,919.0 1099.8,920.3 1101.5,920.7 1103.2,921.3 1104.9,922.3 1106.7,923.1 1108.4,924.4 1110.1,926.0 1111.8,927.0 1113.5,927.3 1115.2,928.6 1116.8,930.1 1118.5,930.6 1120.2,931.7 1121.9,933.4 1123.6,934.5 1125.3,934.8 1127.1,935.4 1128.8,936.5 1130.5,937.0 1132.3,938.0 1134.0,939.9 1135.8,940.8 1137.5,941.7 1139.3,943.6 1141.1,945.1 1142.8,946.5 1144.6,947.4 1146.3,947.4 1148.1,947.3 1149.8,948.3 1151.5,950.9 1153.2,952.7 1154.9,952.9 1156.5,953.2 1158.2,953.5 1159.8,954.6 1161.4,956.8 1163.0,958.6 1164.6,959.6 1166.2,960.9 1167.8,962.0 1169.5,962.4 1171.1,963.1 1172.7,964.0 1174.3,965.5 1176.0,967.6 1177.6,968.7 1179.3,968.7 1181.0,969.2 1182.7,970.4 1184.4,972.5 1186.1,973.8 1187.9,974.0 1189.6,975.1 1191.4,976.1 1193.1,976.6 1194.8,978.8 1196.6,981.5 1198.3,982.4 1200.0,982.2 1201.7,982.9 1203.5,984.6 1205.2,986.1 1206.9,987.3 1208.6,987.8 1210.3,988.5 1212.0,990.0 1213.7,991.1 1215.4,991.6 1217.1,992.9 1218.8,994.1 1220.5,994.4 1222.2,994.9 1224.0,995.8 1225.7,995.8 1227.4,996.3 1229.1,998.2 1230.9,999.6 1232.6,1000.5 1234.4,1001.4 1236.1,1002.5 1237.9,1003.3 1239.6,1003.9 1241.4,1005.4 1243.2,1005.9 1244.9,1006.8 1246.7,1009.8 1248.5,1011.2 1250.3,1011.4 1252.1,1012.3 1253.9,1013.2 1255.7,1013.8 1257.5,1015.2 1259.3,1016.1 1261.1,1016.1 1262.9,1016.8 1264.7,1017.3 1266.6,1017.6 1268.4,1019.0 1270.3,1020.7 1272.1,1022.0 1273.9,1022.0 1275.8,1021.8 1277.7,1022.7 1279.5,1022.6 1281.4,1022.4 1283.3,1023.7 1285.1,1025.4 1287.0,1027.4 1288.9,1028.6 1290.8,1029.1 1292.7,1029.3 1294.6,1029.6 1296.5,1029.8 1298.4,1029.9 1300.3,1031.1 1302.2,1031.1 1304.1,1030.4 1306.1,1032.1 1308.0,1033.6 1309.9,1034.3 1311.9,1035.9 1313.8,1036.3 1315.7,1035.0 1317.7,1034.8 1319.6,1035.5 1321.6,1036.5 1323.5,1038.1 1325.5,1039.2 1327.4,1039.4 1329.4,1039.4 1331.3,1039.1 1333.3,1038.9 1335.3,1040.2 1337.2,1042.4 1339.2,1042.8 1341.1,1041.7 1343.1,1040.5 1345.0,1039.9 1347.0,1040.8 1349.0,1041.8 1350.9,1042.9 1352.9,1043.8 1354.8,1044.2 1356.8,1044.9 1358.8,1045.7 1360.7,1045.9 1362.7,1046.1 1364.7,1046.6 1366.6,1046.9 1368.6,1046.8 1370.5,1047.0 1372.5,1047.4 1374.5,1048.3 1376.4,1048.7 1378.4,1048.2 1380.3,1048.5 1382.3,1049.9 1384.3,1050.9 1386.2,1051.1 1388.2,1051.7 1390.1,1052.3 1392.1,1052.7 1394.1,1052.9 1396.0,1051.6 1398.0,1050.6 1399.9,1051.2 1401.9,1052.1 1403.9,1052.9 1405.8,1054.0 1407.8,1054.7 1409.8,1054.6 1411.7,1055.0 1413.7,1056.0 1415.7,1056.3 1417.6,1056.4 1419.6,1055.9 1421.6,1055.7 1423.6,1056.7 1425.6,1057.7 1427.5,1058.3 1429.5,1058.1 1431.5,1058.5 1433.5,1059.3 1435.4,1057.9 1437.4,1056.9 1439.4,1058.1 1441.4,1059.6 1443.3,1060.4 1445.3,1060.5 1447.3,1061.0 1449.2,1062.1 1451.2,1061.9 1453.2,1061.2 1455.1,1061.6 1457.1,1062.6 1459.1,1063.5 1461.0,1063.3 1463.0,1063.5 1465.0,1064.8 1466.9,1065.2 1468.9,1065.6 1470.8,1066.2 1472.8,1065.8 1474.8,1066.3 1476.7,1067.4 1478.7,1067.5 1480.6,1067.3 1482.6,1067.3 1484.5,1068.0 1486.5,1069.0 1488.4,1070.8 1490.4,1071.3 1492.3,1069.4 1494.3,1069.1 1496.2,1070.8 1498.2,1071.3 1500.1,1071.2 1502.1,1071.9 1504.0,1072.7 1505.9,1073.2 1507.9,1074.8 1509.8,1077.1 1511.7,1077.2 1513.7,1075.6 1515.6,1074.3 1517.6,1075.1 1519.5,1077.7 1521.4,1079.0 1523.4,1078.6 1525.3,1078.5 1527.2,1078.8 1529.2,1078.6 1531.1,1077.9 1533.1,1078.1 1535.0,1080.3 1536.9,1082.7 1538.9,1083.5 1540.8,1082.6 1542.7,1082.7 1544.7,1084.2 1546.6,1084.2 1548.6,1083.8 1550.5,1084.6 1552.4,1086.3 1554.4,1087.9 1556.3,1087.5 1558.2,1086.9 1560.2,1086.8 1562.1,1087.6 1564.0,1089.2 1565.9,1089.5 1567.8,1089.5 1569.8,1089.7 1571.7,1089.4 1573.6,1089.8 1575.5,1092.7 1577.4,1095.9 1579.4,1096.5 1581.3,1096.1 1583.2,1096.0 1585.1,1094.9 1587.0,1095.3 1588.9,1096.9 1590.8,1098.1 1592.8,1100.0 1594.7,1100.1 1596.6,1098.4 1598.5,1098.6 1600.4,1100.0 1602.3,1101.1 1604.3,1101.3 1606.2,1101.0 1608.1,1101.8 1610.0,1104.1 1611.9,1105.1 1613.9,1103.9 1615.8,1103.4 1617.7,1106.0 1619.6,1108.7 1621.5,1108.6 1623.4,1107.3 1625.4,1106.1 1627.3,1106.8 1629.2,1108.9 1631.1,1109.7 1633.0,1109.9 1634.9,1111.3 1636.8,1112.4 1638.8,1112.1 1640.7,1112.3 1642.6,1112.7 1644.5,1112.0 1646.4,1111.4 1648.3,1112.5 1650.2,1114.5 1652.1,1115.6 1654.0,1116.0 1655.9,1116.5 1657.8,1118.2 1659.7,1119.8 1661.6,1119.1 1663.5,1118.2 1665.4,1118.4 1667.3,1119.8 1669.2,1121.6 1671.1,1122.1 1672.9,1122.4 1674.8,1122.6 1676.7,1122.6 1678.6,1123.4 1680.5,1124.8 1682.3,1125.9 1684.2,1127.5 1686.1,1128.3 1688.0,1128.4 1689.8,1129.3 1691.7,1130.1 1693.6,1130.5 1695.4,1132.0 1697.3,1132.5 1699.1,1132.1 1701.0,1133.5 1702.8,1135.0 1704.7,1134.9 1706.5,1135.2 1708.4,1136.8 1710.2,1137.4 1712.1,1136.9 1713.9,1137.6 1715.7,1139.5 1717.6,1140.2 1719.4,1141.0 1721.2,1142.6 1723.0,1143.1 1724.8,1143.7 1726.7,1144.3 1728.5,1145.5 1730.3,1147.0 1732.1,1147.8 1733.9,1148.7 1735.7,1150.1 1737.5,1151.7 1739.2,1152.4 1741.0,1152.4 1742.8,1152.4 1744.6,1153.3 1746.4,1155.4 1748.2,1157.7 1749.9,1158.5 1751.7,1158.7 1753.5,1159.5 1755.2,1160.1 1757.0,1160.7 1758.8,1161.4 1760.5,1162.3 1762.3,1164.7 1764.1,1166.7 1765.8,1166.6 1767.6,1167.3 1769.3,1168.2 1771.1,1168.7 1772.8,1169.5 1774.6,1170.0 1776.3,1171.5 1778.1,1173.8 1779.8,1174.8 1781.5,1174.6 1783.2,1174.5 1784.9,1175.4 1786.6,1177.1 1788.3,1177.9 1790.0,1178.6 1791.6,1180.3 1793.3,1181.1 1795.0,1182.0 1796.6,1183.5 1798.3,1183.5 1800.0,1184.5 1801.7,1187.0 1803.3,1187.6 1805.0,1188.2 1806.7,1190.7 1808.4,1192.3 1810.1,1192.5 1811.8,1193.4 1813.5,1194.9 1815.2,1196.1 1816.9,1196.3 1818.6,1196.7 1820.3,1197.9 1822.1,1198.6 1823.8,1199.1 1825.5,1200.3 1827.2,1201.8 1828.9,1203.9 1830.6,1205.9 1832.3,1207.7 1834.0,1209.3 1835.7,1209.4 1837.4,1209.0 1839.1,1209.8 1840.8,1211.6 1842.5,1212.3 1844.1,1212.1 1845.8,1213.7 1847.5,1215.7 1849.2,1216.8 1850.8,1218.0 1852.5,1219.9 1854.2,1221.0 1855.9,1220.7 1857.5,1221.1 1859.2,1222.0 1860.9,1224.0 1862.6,1226.9 1864.2,1228.2 1865.9,1228.4 1867.6,1229.0 1869.3,1230.6 1870.9,1232.1 1872.6,1232.5 1874.3,1234.1 1876.0,1235.2 1877.7,1235.2 1879.3,1236.0 1881.0,1237.1 1882.7,1238.7 1884.4,1240.5 1886.0,1241.8 1887.7,1243.2 1889.4,1243.2 1891.0,1243.1 1892.7,1244.6 1894.4,1244.6 1896.1,1244.7 1897.8,1247.0 1899.4,1249.8 1901.1,1252.4 1902.8,1253.6 1904.5,1253.8 1906.2,1254.6 1907.9,1255.4 1909.6,1256.2 1911.3,1257.4 1913.0,1258.1 1914.7,1258.9 1916.5,1260.0 1918.2,1261.9 1919.9,1264.2 1921.6,1264.3 1923.3,1263.7 1925.0,1264.2 1926.8,1265.4 1928.5,1267.3 1930.2,1268.2 1931.9,1268.3 1933.6,1270.2 1935.3,1272.8 1937.1,1273.4 1938.8,1273.5 1940.5,1274.2 1942.2,1275.3 1943.9,1277.2 1945.6,1279.3 1947.4,1280.0 1949.1,1279.5 1950.8,1280.1 1952.5,1281.6 1954.2,1282.9 1956.0,1284.7 1957.7,1285.7 1959.4,1284.8 1961.2,1284.4 1962.9,1285.9 1964.6,1287.7 1966.4,1288.9 1968.1,1290.5 1969.9,1291.9 1971.7,1292.6 1973.4,1293.2 1975.2,1294.1 1977.0,1294.8 1978.7,1295.2 1980.5,1297.7 1982.3,1300.7 1984.1,1301.0 1985.9,1300.3 1987.7,1300.7 1989.5,1301.8 1991.3,1303.2 1993.2,1304.4 1995.0,1304.2 1996.8,1304.0 1998.6,1304.9 2000.5,1305.8 2002.3,1306.5 2004.2,1308.2 2006.1,1309.0 2007.9,1308.8 2009.8,1309.9 2011.7,1310.6 2013.5,1310.4 2015.4,1310.2 2017.3,1310.3 2019.2,1310.9 2021.1,1312.2 2023.0,1313.7 2024.9,1315.6 2026.8,1317.7 2028.7,1318.5 2030.6,1318.2 2032.5,1318.6 2034.4,1319.5 2036.3,1319.9 2038.2,1320.6 2040.1,1321.4 2042.1,1321.2 2044.0,1320.4 2045.9,1321.2 2047.8,1323.3 2049.7,1323.8 2051.7,1323.7 2053.6,1324.6 2055.5,1324.9 2057.5,1325.8 2059.4,1326.4 2061.3,1325.1 2063.3,1326.0 2065.2,1328.2 2067.1,1329.5 2069.1,1330.6 2071.0,1330.5 2073.0,1329.8 2074.9,1330.2 2076.9,1331.2 2078.8,1330.8 2080.8,1330.5 2082.7,1331.5 2084.6,1332.3 2086.6,1332.3 2088.5,1332.5 2090.5,1332.2 2092.4,1331.8 2094.4,1333.9 2096.3,1336.2 2098.3,1336.0 2100.2,1336.9 2102.2,1338.3 2104.1,1337.5 2106.1,1338.0 2108.0,1338.6 2110.0,1337.7"/>
<polyline class="c" stroke="#8000ff" stroke-width="10.9" points="290.0,468.0 291.1,466.5 292.3,465.1 293.5,463.3 294.6,461.6 295.8,460.0 297.0,458.2 298.1,456.5 299.3,454.9 300.5,453.2 301.6,451.5 302.8,449.9 303.9,448.4 305.1,446.8 306.3,445.0 307.4,443.4 308.6,442.2 309.8,440.6 310.9,438.7 312.1,437.0 313.3,435.3 314.5,433.6 315.7,432.0 316.9,430.6 318.1,429.2 319.3,427.6 320.5,425.9 321.7,424.2 322.9,422.6 324.1,421.1 325.3,419.5 326.5,417.8 327.6,416.1 328.8,414.6 330.0,412.9 331.1,411.4 332.2,409.8 333.3,408.2 334.4,406.5 335.5,404.8 336.5,403.0 337.5,401.1 338.5,399.5 339.5,397.8 340.5,396.1 341.4,394.5 342.4,392.7 343.3,390.8 344.2,388.9 345.1,387.2 346.1,385.5 347.0,383.6 347.9,381.7 348.8,379.9 349.7,378.2 350.7,376.6 351.6,374.9 352.5,373.2 353.4,371.4 354.4,369.4 355.3,367.6 356.2,365.9 357.2,364.1 358.1,362.3 359.1,360.6 360.0,358.9 360.9,357.1 361.9,355.2 362.8,353.2 363.7,351.6 364.7,349.9 365.6,348.3 366.5,346.7 367.5,344.6 368.4,342.6 369.3,340.9 370.2,339.3 371.1,337.5 372.0,335.7 373.0,334.0 373.9,332.4 374.8,330.6 375.7,328.8 376.6,327.0 377.5,325.2 378.4,323.4 379.3,321.4 380.1,319.6 381.0,317.8 381.9,316.0 382.8,314.4 383.7,312.5 384.6,310.7 385.5,308.8 386.4,307.1 387.3,305.4 388.1,303.5 389.0,301.7 389.9,300.0 390.8,298.3 391.7,296.5 392.6,294.6 393.6,292.7 394.5,291.1 395.4,289.4 396.3,287.6 397.2,285.8 398.1,284.1 399.0,282.2 399.9,280.4 400.8,278.6 401.7,276.8 402.6,275.1 403.5,273.1 404.4,271.2 405.4,269.5 406.3,268.0 407.2,266.3 408.1,264.3 409.0,262.5 409.9,260.9 410.8,259.1 411.7,257.1 412.6,255.2 413.5,253.3 414.4,251.6 415.3,249.9 416.2,247.9 417.1,246.2 418.0,244.6 418.9,242.8 419.8,241.0 420.7,239.2 421.6,237.5 422.5,235.9 423.4,234.3 424.3,232.5 425.2,230.6 426.1,228.8 427.0,227.1 427.9,225.3 428.8,223.5 429.7,221.6 430.6,219.6 431.5,217.7 432.4,216.1 433.3,214.4 434.3,212.5 435.3,210.6 436.2,208.9 437.2,207.4 438.2,205.7 439.2,203.8 440.2,202.1 441.3,200.5 442.4,199.0 443.4,197.4 444.5,195.5 445.7,193.6 446.8,192.0 448.0,190.4 449.2,189.0 450.4,187.4 451.7,185.8 453.0,184.2 454.2,182.7 455.5,181.2 456.9,179.7 458.2,178.1 459.6,176.5 460.9,175.1 462.3,173.8 463.7,172.6 465.2,171.2 466.6,169.7 468.1,168.2 469.6,166.5 471.2,165.1 472.7,164.2 474.3,163.1 476.0,162.0 477.6,160.8 479.3,159.7 481.1,158.7 482.8,157.7 484.7,157.2 486.5,156.7 488.4,155.7 490.3,154.9 492.3,154.6 494.3,154.8 496.3,154.9 498.3,154.7 500.3,154.2 502.3,154.0 504.3,154.4 506.3,154.7 508.2,155.0 510.2,155.7 512.1,156.3 513.9,156.7 515.7,157.0 517.4,157.7 519.1,158.7 520.7,160.1 522.2,161.6 523.7,162.9 525.2,164.1 526.6,165.6 527.9,167.2 529.2,168.4 530.4,169.8 531.6,171.6 532.8,173.4 534.0,175.0 535.1,176.6 536.2,178.4 537.3,180.2 538.4,181.8 539.5,183.3 540.6,185.1 541.7,186.8 542.8,188.6 543.8,190.4 544.9,192.0 545.9,193.7 546.9,195.4 547.9,197.2 548.9,199.0 549.9,200.7 550.8,202.3 551.8,204.0 552.7,205.9 553.6,207.8 554.5,209.6 555.4,211.2 556.2,213.0 557.0,214.9 557.9,216.6 558.7,218.4 559.5,220.4 560.2,222.3 561.0,224.1 561.7,225.9 562.4,227.8 563.1,229.6 563.8,231.5 564.5,233.4 565.2,235.3 565.8,237.3 566.5,239.2 567.1,241.1 567.7,243.0 568.3,245.0 568.9,246.9 569.5,248.7 570.2,250.6 570.8,252.5 571.4,254.4 572.0,256.3 572.7,258.2 573.3,260.1 574.0,262.0 574.7,263.8 575.3,265.7 576.0,267.6 576.7,269.6 577.4,271.5 578.0,273.3 578.7,275.2 579.4,277.1 580.1,278.9 580.8,280.7 581.4,282.6 582.1,284.6 582.8,286.4 583.4,288.3 584.0,290.2 584.7,292.1 585.3,294.0 585.9,295.8 586.6,297.7 587.2,299.7 587.8,301.6 588.4,303.5 589.0,305.4 589.6,307.3 590.1,309.2 590.7,311.1 591.3,313.1 591.9,315.0 592.5,316.8 593.0,318.7 593.6,320.7 594.2,322.7 594.7,324.6 595.3,326.5 595.9,328.5 596.4,330.4 597.0,332.3 597.5,334.3 598.1,336.3 598.7,338.1 599.2,340.0 599.7,341.9 600.3,343.9 600.8,345.8 601.3,347.6 601.9,349.5 602.4,351.6 602.9,353.5 603.3,355.4 603.8,357.4 604.3,359.4 604.8,361.3 605.2,363.2 605.7,365.2 606.1,367.1 606.6,369.0 607.0,370.9 607.5,372.9 607.9,374.9 608.3,376.8 608.8,378.7 609.2,380.6 609.6,382.6 610.1,384.7 610.5,386.6 610.9,388.5 611.4,390.5 611.8,392.5 612.2,394.4 612.7,396.4 613.1,398.4 613.6,400.3 614.0,402.2 614.5,404.2 614.9,406.1 615.4,408.0 615.8,410.0 616.3,412.0 616.7,413.9 617.2,415.8 617.7,417.7 618.1,419.7 618.6,421.6 619.0,423.6 619.5,425.6 619.9,427.6 620.4,429.5 620.9,431.4 621.3,433.4 621.8,435.4 622.2,437.3 622.7,439.2 623.2,441.2 623.6,443.1 624.1,445.0 624.6,447.0 625.0,448.9 625.5,450.9 626.0,452.8 626.5,454.7 626.9,456.7 627.4,458.7 627.9,460.7 628.4,462.5 628.9,464.4 629.3,466.4 629.8,468.3 630.3,470.2 630.8,472.2 631.3,474.2 631.8,476.1 632.3,478.1 632.7,480.0 633.2,481.9 633.7,483.9 634.2,485.8 634.7,487.7 635.1,489.7 635.6,491.7 636.1,493.6 636.5,495.6 637.0,497.6 637.5,499.5 637.9,501.4 638.4,503.3 638.8,505.2 639.3,507.2 639.7,509.2 640.2,511.1 640.6,513.1 641.0,515.0 641.5,516.9 641.9,518.9 642.4,520.9 642.8,522.8 643.2,524.8 643.7,526.8 644.1,528.7 644.5,530.6 644.9,532.6 645.4,534.5 645.8,536.5 646.2,538.4 646.7,540.4 647.1,542.3 647.5,544.3 647.9,546.2 648.4,548.2 648.8,550.1 649.2,552.1 649.6,554.0 650.0,556.0 650.5,558.0 650.9,560.0 651.3,561.9 651.7,563.9 652.2,565.8 652.6,567.8 653.0,569.7 653.4,571.7 653.8,573.7 654.3,575.6 654.7,577.5 655.1,579.5 655.5,581.5 655.9,583.5 656.3,585.4 656.8,587.3 657.2,589.2 657.6,591.2 658.0,593.2 658.4,595.2 658.8,597.2 659.2,599.1 659.6,601.0 660.0,603.0 660.5,604.9 660.9,606.9 661.3,608.8 661.7,610.8 662.1,612.8 662.5,614.8 662.9,616.7 663.3,618.6 663.7,620.6 664.1,622.6 664.4,624.6 664.8,626.5 665.2,628.5 665.6,630.5 666.0,632.4 666.4,634.3 666.8,636.3 667.2,638.2 667.6,640.2 668.0,642.2 668.4,644.1 668.7,646.1 669.1,648.1 669.5,650.0 669.9,652.0 670.3,654.0 670.7,655.9 671.1,657.9 671.5,659.8 671.9,661.8 672.2,663.8 672.6,665.7 673.0,667.7 673.4,669.7 673.8,671.6 674.2,673.6 674.6,675.6 675.0,677.5 675.4,679.5 675.8,681.4 676.1,683.4 676.5,685.4 676.9,687.3 677.3,689.3 677.7,691.3 678.1,693.2 678.5,695.2 678.9,697.1 679.3,699.1 679.7,701.0 680.1,703.0 680.5,704.9 680.9,706.9 681.3,708.8 681.7,710.8 682.1,712.8 682.5,714.7 682.9,716.7 683.3,718.7 683.7,720.7 684.1,722.6 684.5,724.6 684.9,726.5 685.3,728.5 685.7,730.4 686.2,732.3 686.6,734.3 687.0,736.3 687.4,738.3 687.8,740.2 688.2,742.1 688.7,744.1 689.1,746.1 689.5,748.1 689.9,750.0 690.3,751.9 690.8,753.9 691.2,755.8 691.6,757.7 692.0,759.7 692.5,761.7 692.9,763.7 693.3,765.6 693.8,767.5 694.2,769.5 694.7,771.4 695.1,773.4 695.5,775.4 696.0,777.3 696.4,779.3 696.9,781.2 697.3,783.2 697.8,785.1 698.2,787.1 698.7,789.1 699.1,791.0 699.5,793.0 700.0,794.9 700.4,796.8 700.9,798.8 701.3,800.8 701.8,802.7 702.2,804.6 702.7,806.5 703.1,808.5 703.5,810.5 704.0,812.4 704.4,814.4 704.9,816.4 705.3,818.3 705.8,820.2 706.2,822.1 706.7,824.0 707.1,826.0 707.5,828.0 708.0,830.0 708.4,831.9 708.9,833.8 709.3,835.8 709.8,837.7 710.2,839.7 710.6,841.7 711.1,843.6 711.5,845.6 712.0,847.5 712.4,849.5 712.9,851.4 713.3,853.4 713.7,855.4 714.2,857.3 714.6,859.2 715.1,861.2 715.5,863.1 716.0,865.1 716.4,867.1 716.8,869.0 717.3,870.9 717.7,872.9 718.2,874.9 718.6,876.8 719.1,878.7 719.5,880.7 719.9,882.7 720.4,884.6 720.8,886.6 721.3,888.5 721.7,890.4 722.2,892.4 722.6,894.3 723.0,896.2 723.5,898.2 723.9,900.1 724.4,902.0 724.8,904.0 725.3,905.9 725.7,907.9 726.2,909.9 726.6,911.8 727.1,913.8 727.5,915.7 728.0,917.7 728.4,919.7 728.9,921.6 729.4,923.6 729.8,925.4 730.3,927.3 730.8,929.3 731.2,931.3 731.7,933.2 732.2,935.2 732.7,937.1 733.1,939.0 733.6,941.0 734.1,942.9 734.6,944.9 735.1,946.9 735.6,948.9 736.1,950.8 736.6,952.7 737.2,954.6 737.7,956.5 738.2,958.4 738.7,960.3 739.2,962.4 739.8,964.3 740.3,966.2 740.8,968.1 741.3,970.0 741.8,972.0 742.4,974.0 742.9,975.8 743.4,977.7 743.9,979.7 744.4,981.6 744.9,983.6 745.4,985.6 745.9,987.4 746.4,989.3 746.9,991.3 747.4,993.3 747.9,995.2 748.4,997.1 748.9,999.1 749.4,1001.0 749.9,1003.0 750.4,1004.9 750.9,1006.8 751.4,1008.7 751.9,1010.7 752.4,1012.7 752.9,1014.6 753.4,1016.4 754.0,1018.4 754.5,1020.3 755.0,1022.2 755.5,1024.2 756.0,1026.1 756.6,1028.0 757.1,1029.9 757.6,1031.8 758.2,1033.8 758.7,1035.8 759.3,1037.8 759.8,1039.7 760.4,1041.6 761.0,1043.4 761.5,1045.3 762.1,1047.3 762.7,1049.3 763.2,1051.2 763.8,1053.1 764.4,1054.9 765.0,1056.8 765.6,1058.8 766.2,1060.7 766.7,1062.6 767.3,1064.5 767.9,1066.4 768.5,1068.4 769.1,1070.2 769.7,1072.0 770.3,1074.1 770.9,1076.1 771.4,1078.0 772.0,1079.9 772.6,1081.7 773.2,1083.6 773.8,1085.5 774.4,1087.4 775.0,1089.3 775.5,1091.2 776.1,1093.2 776.7,1095.2 777.3,1097.0 777.9,1098.9 778.5,1100.7 779.0,1102.7 779.6,1104.7 780.2,1106.7 780.8,1108.6 781.4,1110.5 782.0,1112.3 782.6,1114.1 783.3,1116.0 783.9,1118.0 784.5,1119.9 785.2,1121.8 785.8,1123.7 786.5,1125.6 787.1,1127.5 787.8,1129.4 788.5,1131.2 789.2,1133.1 789.9,1135.0 790.6,1136.9 791.3,1138.8 792.0,1140.6 792.7,1142.3 793.5,1144.2 794.2,1146.2 795.0,1148.0 795.7,1149.8 796.5,1151.7 797.3,1153.7 798.0,1155.5 798.8,1157.3 799.6,1159.2 800.4,1161.0 801.2,1162.8 802.0,1164.7 802.8,1166.5 803.6,1168.3 804.4,1170.1 805.2,1171.9 806.0,1173.7 806.8,1175.6 807.6,1177.4 808.4,1179.3 809.3,1181.1 810.1,1182.8 810.9,1184.6 811.7,1186.5 812.6,1188.3 813.4,1190.1 814.3,1191.9 815.1,1193.6 816.0,1195.5 816.9,1197.4 817.7,1199.2 818.6,1201.1 819.5,1202.9 820.4,1204.4 821.3,1206.1 822.2,1208.2 823.2,1210.0 824.1,1211.6 825.0,1213.4 826.0,1215.1 827.0,1216.8 827.9,1218.6 828.9,1220.6 829.9,1222.3 830.9,1224.0 831.9,1225.8 832.9,1227.3 833.9,1229.0 834.9,1230.9 835.9,1232.6 836.9,1234.3 837.9,1236.2 839.0,1237.9 840.0,1239.5 841.0,1241.1 842.1,1243.0 843.2,1244.8 844.2,1246.2 845.3,1247.8 846.4,1249.5 847.5,1251.2 848.6,1252.9 849.7,1254.6 850.9,1256.3 852.0,1258.0 853.2,1259.6 854.4,1261.2 855.6,1262.7 856.8,1264.3 858.0,1265.9 859.2,1267.2 860.4,1268.8 861.7,1270.5 862.9,1272.2 864.2,1273.9 865.5,1275.7 866.7,1277.3 868.0,1278.6 869.3,1280.0 870.6,1281.8 871.9,1283.3 873.2,1284.6 874.5,1285.6 875.8,1287.3 877.2,1289.4 878.5,1291.0 879.8,1292.2 881.2,1293.4 882.6,1294.9 883.9,1296.6 885.3,1298.1 886.7,1299.4 888.1,1300.7 889.5,1302.3 890.9,1304.2 892.4,1305.7 893.8,1306.8 895.3,1307.8 896.8,1308.8 898.3,1309.8 899.8,1311.1 901.3,1313.1 902.8,1314.8 904.3,1315.5 905.9,1316.3 907.4,1317.8 909.0,1319.3 910.6,1320.6 912.2,1322.3 913.8,1323.6 915.5,1324.5 917.1,1325.3 918.8,1326.2 920.4,1327.4 922.1,1328.6 923.8,1329.6 925.5,1330.9 927.2,1331.9 928.9,1332.6 930.7,1333.4 932.4,1334.4 934.2,1335.0 936.0,1335.8 937.8,1337.3 939.6,1338.8 941.4,1339.4 943.2,1339.9 945.0,1341.3 946.8,1342.4 948.7,1342.6 950.5,1342.7 952.4,1343.5 954.2,1344.7 956.1,1345.9 958.0,1346.2 959.9,1346.5 961.8,1346.9 963.7,1347.7 965.6,1348.8 967.5,1349.5 969.4,1349.7 971.3,1350.0 973.3,1350.9 975.2,1351.8 977.1,1352.6 979.1,1352.9 981.0,1353.0 983.0,1353.4 984.9,1353.9 986.9,1354.1 988.8,1354.4 990.8,1355.5 992.7,1356.3 994.7,1356.4 996.7,1356.6 998.6,1356.6 1000.6,1356.7 1002.6,1357.1 1004.6,1357.6 1006.5,1358.4 1008.5,1358.4 1010.5,1358.0 1012.5,1358.8 1014.4,1359.7 1016.4,1359.9 1018.4,1359.7 1020.4,1360.1 1022.4,1360.8 1024.3,1361.3 1026.3,1361.3 1028.3,1360.9 1030.3,1361.0 1032.3,1361.3 1034.3,1361.4 1036.3,1362.0 1038.2,1362.6 1040.2,1362.4 1042.2,1362.1 1044.2,1362.3 1046.2,1362.8 1048.2,1363.3 1050.2,1363.4 1052.2,1363.1 1054.2,1362.8 1056.2,1362.8 1058.2,1363.2 1060.2,1363.6 1062.1,1363.8 1064.1,1364.0 1066.1,1364.3 1068.1,1364.6 1070.1,1364.9 1072.1,1365.2 1074.1,1365.3 1076.1,1365.0 1078.1,1364.9 1080.1,1365.1 1082.1,1365.7 1084.1,1366.4 1086.1,1366.6 1088.1,1366.4 1090.1,1366.4 1092.1,1366.7 1094.1,1366.5 1096.1,1366.5 1098.1,1366.8 1100.1,1366.7 1102.1,1366.5 1104.1,1366.7 1106.1,1367.0 1108.0,1367.1 1110.0,1367.2 1112.0,1367.3 1114.0,1367.4 1116.0,1367.8 1118.0,1368.1 1120.0,1368.2 1122.0,1368.3 1124.0,1368.3 1126.0,1368.0 1128.0,1368.3 1130.0,1368.9 1132.0,1369.0 1134.0,1368.8 1136.0,1368.7 1138.0,1368.8 1140.0,1368.9 1142.0,1369.1 1144.0,1369.3 1146.0,1369.1 1148.0,1368.8 1150.0,1368.6 1152.0,1368.5 1154.0,1369.1 1156.0,1369.6 1158.0,1369.7 1160.0,1369.9 1162.0,1369.8 1164.0,1369.7 1166.0,1369.7 1168.0,1369.7 1170.0,1369.9 1172.0,1370.0 1174.0,1369.9 1176.0,1369.7 1178.0,1369.5 1180.0,1369.4 1182.0,1369.8 1184.0,1369.9 1186.0,1369.6 1188.0,1370.4 1190.0,1371.3 1192.0,1370.7 1194.0,1370.2 1196.0,1370.3 1198.0,1370.2 1200.0,1370.3 1202.0,1370.2 1204.0,1370.2 1206.0,1370.6 1208.0,1370.8 1210.0,1370.8 1212.0,1370.8 1214.0,1370.8 1216.0,1371.1 1218.0,1371.6 1220.0,1371.6 1222.0,1371.1 1224.0,1370.5 1226.0,1370.0 1228.0,1370.3 1230.0,1370.7 1232.0,1370.6 1234.0,1370.3 1236.0,1370.1 1238.0,1370.0 1240.0,1370.4 1242.0,1370.9 1244.0,1371.1 1246.0,1371.0 1248.0,1370.8 1250.0,1370.7 1252.0,1370.8 1254.0,1370.9 1256.0,1371.0 1258.0,1371.0 1260.0,1370.8 1262.0,1370.9 1264.0,1371.4 1266.0,1371.1 1268.0,1370.4 1270.0,1370.6 1272.0,1371.1 1274.0,1370.8 1276.0,1370.0 1278.0,1369.8 1280.0,1370.4 1282.0,1370.6 1284.0,1370.6 1286.0,1371.2 1288.0,1371.4 1290.0,1371.3 1292.0,1371.0 1294.0,1370.6 1296.0,1370.2 1298.0,1370.2 1300.0,1371.0 1302.0,1371.4 1304.0,1371.0 1306.0,1370.6 1308.0,1370.9 1310.0,1371.0 1312.0,1370.7 1314.0,1370.9 1316.0,1371.0 1318.0,1370.7 1320.0,1370.8 1322.0,1371.3 1324.0,1371.6 1326.0,1371.6 1328.0,1371.1 1330.0,1370.7 1332.0,1370.7 1334.0,1370.7 1336.0,1370.9 1338.0,1371.3 1340.0,1371.6 1342.0,1371.6 1344.0,1371.4 1346.0,1370.8 1348.0,1370.7 1350.0,1370.6 1352.0,1370.1 1354.0,1370.1 1356.0,1370.7 1358.0,1371.1 1360.0,1371.2 1362.0,1371.1 1364.0,1370.7 1366.0,1370.6 1368.0,1371.1 1370.0,1371.6 1372.0,1371.3 1374.0,1370.9 1376.0,1371.1 1378.0,1371.4 1380.0,1371.5 1382.0,1371.2 1384.0,1371.2 1386.0,1371.3 1388.0,1371.1 1390.0,1370.9 1392.0,1370.9 1394.0,1371.1 1396.0,1371.0 1398.0,1370.7 1400.0,1371.1 1402.0,1371.6 1404.0,1371.1 1406.0,1370.7 1408.0,1371.2 1410.0,1371.3 1412.0,1371.2 1414.0,1371.3 1416.0,1370.9 1418.0,1370.6 1420.0,1370.8 1422.0,1371.1 1424.0,1371.1 1426.0,1371.4 1428.0,1371.8 1430.0,1371.7 1432.0,1371.8 1434.0,1372.0 1436.0,1371.5 1438.0,1371.0 1440.0,1371.0 1442.0,1371.5 1444.0,1372.0 1446.0,1371.8 1448.0,1371.2 1450.0,1371.1 1452.0,1371.6 1454.0,1371.8 1456.0,1371.6 1458.0,1371.7 1460.0,1371.6 1462.0,1371.2 1464.0,1371.0 1466.0,1370.9 1468.0,1371.2 1470.0,1371.3 1472.0,1370.9 1474.0,1370.9 1476.0,1371.0 1478.0,1370.8 1480.0,1370.7 1482.0,1370.8 1484.0,1371.3 1486.0,1371.3 1488.0,1371.1 1490.0,1371.3 1492.0,1370.8 1494.0,1370.2 1496.0,1370.4 1498.0,1370.7 1500.0,1370.5 1502.0,1370.9 1504.0,1371.4 1506.0,1371.5 1508.0,1371.5 1510.0,1371.5 1512.0,1371.4 1514.0,1371.3 1516.0,1371.1 1518.0,1371.1 1520.0,1371.2 1522.0,1371.6 1524.0,1372.0 1526.0,1371.6 1528.0,1371.3 1530.0,1371.3 1532.0,1371.0 1534.0,1370.7 1536.0,1370.9 1538.0,1370.6 1540.0,1370.4 1542.0,1370.8 1544.0,1370.9 1546.0,1371.3 1548.0,1371.7 1550.0,1371.3 1552.0,1371.0 1554.0,1371.5 1556.0,1372.0 1558.0,1371.9 1560.0,1372.1 1562.0,1371.8 1564.0,1371.3 1566.0,1371.2 1568.0,1371.1 1570.0,1371.3 1572.0,1371.5 1574.0,1371.1 1576.0,1370.7 1578.0,1370.9 1580.0,1371.2 1582.0,1371.4 1584.0,1371.4 1586.0,1371.4 1588.0,1371.0 1590.0,1370.7 1592.0,1371.2 1594.0,1371.6 1596.0,1371.1 1598.0,1370.5 1600.0,1370.8 1602.0,1371.4 1604.0,1371.4 1606.0,1371.5 1608.0,1371.5 1610.0,1371.3 1612.0,1371.6 1614.0,1372.2 1616.0,1372.3 1618.0,1371.7 1620.0,1371.5 1622.0,1371.8 1624.0,1371.8 1626.0,1371.6 1628.0,1371.4 1630.0,1371.3 1632.0,1371.4 1634.0,1371.3 1636.0,1371.0 1638.0,1370.9 1640.0,1371.3 1642.0,1371.3 1644.0,1371.0 1646.0,1371.3 1648.0,1371.8 1650.0,1372.0 1652.0,1371.8 1654.0,1371.6 1656.0,1371.8 1658.0,1371.7 1660.0,1371.3 1662.0,1371.2 1664.0,1371.7 1666.0,1371.7 1668.0,1371.4 1670.0,1371.3 1672.0,1371.2 1674.0,1370.9 1676.0,1371.1 1678.0,1371.5 1680.0,1371.7 1682.0,1371.6 1684.0,1371.5 1686.0,1371.6 1688.0,1371.4 1690.0,1371.1 1692.0,1371.2 1694.0,1371.1 1696.0,1371.2 1698.0,1371.4 1700.0,1371.5 1702.0,1371.4 1704.0,1371.5 1706.0,1372.0 1708.0,1372.1 1710.0,1371.9 1712.0,1371.7 1714.0,1371.1 1716.0,1370.5 1718.0,1370.7 1720.0,1370.9 1722.0,1370.9 1724.0,1371.6 1726.0,1371.7 1728.0,1371.1 1730.0,1370.8 1732.0,1370.8 1734.0,1371.2 1736.0,1371.7 1738.0,1371.7 1740.0,1371.4 1742.0,1371.6 1744.0,1371.7 1746.0,1371.5 1748.0,1371.5 1750.0,1371.9 1752.0,1372.3 1754.0,1372.4 1756.0,1371.8 1758.0,1371.3 1760.0,1371.4 1762.0,1371.8 1764.0,1371.6 1766.0,1371.6 1768.0,1372.3 1770.0,1372.6 1772.0,1372.0 1774.0,1371.4 1776.0,1371.3 1778.0,1371.0 1780.0,1371.0 1782.0,1371.4 1784.0,1371.6 1786.0,1372.2 1788.0,1372.7 1790.0,1372.1 1792.0,1371.6 1794.0,1371.6 1796.0,1371.9 1798.0,1372.1 1800.0,1372.0 1802.0,1371.7 1804.0,1371.2 1806.0,1371.0 1808.0,1371.5 1810.0,1371.7 1812.0,1371.6 1814.0,1371.7 1816.0,1371.5 1818.0,1371.5 1820.0,1371.8 1822.0,1371.9 1824.0,1371.4 1826.0,1371.1 1828.0,1371.5 1830.0,1371.9 1832.0,1371.7 1834.0,1371.2 1836.0,1370.9 1838.0,1371.3 1840.0,1372.0 1842.0,1372.1 1844.0,1371.5 1846.0,1371.0 1848.0,1371.3 1850.0,1371.7 1852.0,1371.6 1854.0,1371.5 1856.0,1371.9 1858.0,1372.2 1860.0,1371.7 1862.0,1371.7 1864.0,1372.1 1866.0,1372.1 1868.0,1371.8 1870.0,1371.7 1872.0,1371.6 1874.0,1371.7 1876.0,1371.9 1878.0,1372.1 1880.0,1371.9 1882.0,1371.6 1884.0,1371.8 1886.0,1371.9 1888.0,1371.6 1890.0,1371.7 1892.0,1372.1 1894.0,1371.9 1896.0,1371.7 1898.0,1372.0 1900.0,1372.2 1902.0,1372.1 1904.0,1372.2 1906.0,1372.1 1908.0,1371.6 1910.0,1371.7 1912.0,1371.8 1914.0,1371.4 1916.0,1371.2 1918.0,1371.4 1920.0,1371.6 1922.0,1371.8 1924.0,1372.0 1926.0,1372.1 1928.0,1371.7 1930.0,1371.7 1932.0,1371.5 1934.0,1371.1 1936.0,1371.0 1938.0,1370.9 1940.0,1370.9 1942.0,1371.4 1944.0,1371.7 1946.0,1371.5 1948.0,1371.4 1950.0,1371.7 1952.0,1371.5 1954.0,1371.3 1956.0,1371.9 1958.0,1372.1 1960.0,1371.4 1962.0,1370.9 1964.0,1371.0 1966.0,1371.5 1968.0,1371.9 1970.0,1371.8 1972.0,1371.9 1974.0,1372.2 1976.0,1372.0 1978.0,1372.0 1980.0,1372.2 1982.0,1371.8 1984.0,1371.4 1986.0,1371.3 1988.0,1371.0 1990.0,1371.2 1992.0,1371.5 1994.0,1371.3 1996.0,1372.0 1998.0,1372.5 2000.0,1371.6 2002.0,1371.3 2004.0,1371.7 2006.0,1371.4 2008.0,1370.8 2010.0,1370.9 2012.0,1371.1 2014.0,1371.6 2016.0,1372.0 2018.0,1371.3 2020.0,1370.6 2022.0,1370.7 2024.0,1371.4 2026.0,1371.8 2028.0,1371.4 2030.0,1371.4 2032.0,1371.7 2034.0,1371.6 2036.0,1371.4 2038.0,1371.5 2040.0,1371.5 2042.0,1371.6 2044.0,1371.7 2046.0,1371.4 2048.0,1371.8 2050.0,1372.1 2052.0,1371.7 2054.0,1371.7 2056.0,1371.8 2058.0,1371.5 2060.0,1371.2 2062.0,1371.3 2064.0,1371.4 2066.0,1371.3 2068.0,1371.4 2070.0,1371.7 2072.0,1371.8 2074.0,1372.0 2076.0,1371.9 2078.0,1371.2 2080.0,1371.1 2082.0,1371.8 2084.0,1371.9 2086.0,1371.5 2088.0,1371.5 2090.0,1371.6 2092.0,1371.3 2094.0,1371.3 2096.0,1371.5 2098.0,1371.6 2100.0,1371.9 2102.0,1372.0 2104.0,1371.8 2106.0,1371.9 2108.0,1371.9 2110.0,1371.7"/>
</g>
<g class="lb">
<text x="622" y="196" fill="#8000ff" style="fill:#8000ff" text-anchor="middle">(e)</text>
<text x="887.5" y="735" fill="#008000" style="fill:#008000" text-anchor="middle">(b)</text>
<text x="1245" y="942" fill="#800000" style="fill:#800000" text-anchor="middle">(d)</text>
<text x="1052.5" y="1040" fill="#ff8000" style="fill:#ff8000" text-anchor="middle">(c)</text>
<text x="437" y="1032" fill="#0000ff" style="fill:#0000ff" text-anchor="middle">(a)</text>
</g>
<text x="1054" y="1621" style="font-size:106px"><tspan class="gr" style="font-size:101px">λ</tspan><tspan dx="35">(nm)</tspan></text>
<text transform="translate(111.5,971) rotate(-90)" style="font-size:108px"><tspan class="gr" style="font-size:98px">ε</tspan><tspan dx="28">(L.mol</tspan><tspan dy="-50" style="font-size:72px">-1</tspan><tspan dy="50">.cm</tspan><tspan dy="-50" style="font-size:72px">-1</tspan><tspan dy="50">)</tspan></text>
</svg></body></html>
